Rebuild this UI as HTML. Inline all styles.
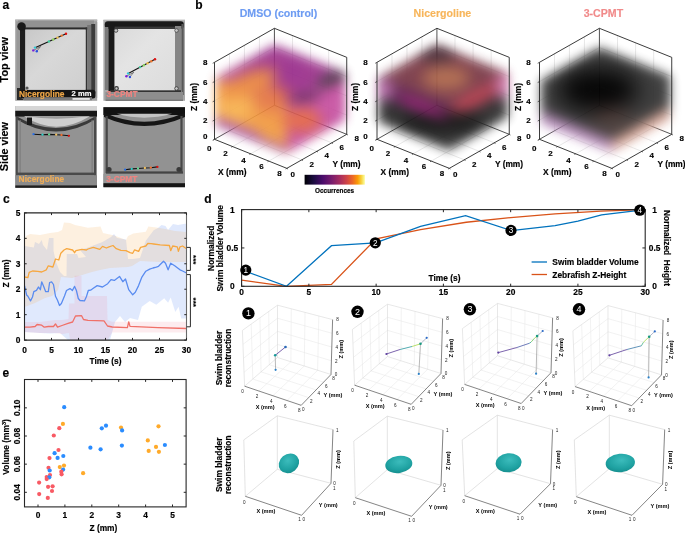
<!DOCTYPE html>
<html><head><meta charset="utf-8"><style>
html,body{margin:0;padding:0;background:#fff;overflow:hidden;}
svg{display:block;will-change:transform;}
text{font-family:"Liberation Sans",sans-serif;}
</style></head><body>
<svg width="685" height="533" viewBox="0 0 685 533">
<defs>
<linearGradient id="g1" x1="0" y1="0" x2="1" y2="1"><stop offset="0" stop-color="#c8c8c8"/><stop offset="0.45" stop-color="#d8d8d8"/><stop offset="1" stop-color="#cfcfcf"/></linearGradient>
<linearGradient id="g2" x1="0" y1="0" x2="1" y2="1"><stop offset="0" stop-color="#dadada"/><stop offset="0.4" stop-color="#e4e4e4"/><stop offset="1" stop-color="#dcdcdc"/></linearGradient>
</defs>
<text x="2.6" y="9.2" font-size="12" font-weight="bold" fill="#000" stroke="#000" stroke-width="0.16" text-anchor="start">a</text>
<text x="195.2" y="8.6" font-size="12" font-weight="bold" fill="#000" stroke="#000" stroke-width="0.16" text-anchor="start">b</text>
<text x="3.0" y="202.6" font-size="12" font-weight="bold" fill="#000" stroke="#000" stroke-width="0.16" text-anchor="start">c</text>
<text x="204.2" y="203.0" font-size="12" font-weight="bold" fill="#000" stroke="#000" stroke-width="0.16" text-anchor="start">d</text>
<text x="2.6" y="377.2" font-size="12" font-weight="bold" fill="#000" stroke="#000" stroke-width="0.16" text-anchor="start">e</text>
<defs><filter color-interpolation-filters="sRGB" id="pb" x="-5%" y="-5%" width="110%" height="110%"><feGaussianBlur stdDeviation="0.55"/></filter></defs>
<g filter="url(#pb)">
<rect x="15.20" y="19.60" width="82.00" height="81.20" fill="#a4a4a4"/>
<rect x="15.20" y="19.60" width="82.00" height="1.40" fill="#b4b4b4"/>
<rect x="18.00" y="20.50" width="76.00" height="6.90" fill="#929292"/>
<rect x="16.60" y="22.00" width="3.60" height="70.00" fill="#989898"/>
<rect x="20.00" y="27.40" width="68.00" height="2.20" fill="#2a2a2a"/>
<rect x="20.00" y="24.50" width="5.30" height="68.50" fill="#1e1e1e"/>
<circle cx="21.5" cy="26.5" r="4.2" fill="#1a1a1a"/>
<rect x="85.60" y="27.50" width="1.60" height="62.50" fill="#333333"/>
<rect x="87.20" y="25.00" width="4.00" height="65.00" fill="#767676"/>
<rect x="91.20" y="24.00" width="4.20" height="70.00" fill="#3c3c3c"/>
<rect x="95.40" y="22.00" width="1.80" height="76.00" fill="#9c9c9c"/>
<rect x="20" y="89.8" width="75.4" height="8.6" rx="2.5" fill="#141414"/>
<path d="M17 88 L20 88 L20 97 L24 100 L17 100 Z" fill="#2a2a2a"/>
<rect x="24.00" y="97.20" width="68.00" height="3.00" fill="#7a7a7a"/>
<rect x="25.3" y="29.6" width="60.3" height="60.2" fill="url(#g1)"/>
<circle cx="27" cy="88" r="1.6" fill="#555"/>
</g>
<g filter="url(#pb)">
<rect x="103.40" y="19.80" width="81.60" height="81.00" fill="#a8a8a8"/>
<rect x="103.40" y="19.80" width="81.60" height="1.50" fill="#b8b8b8"/>
<rect x="104.8" y="21.3" width="79" height="7.4" rx="3" fill="#1a1a1a"/>
<rect x="105.00" y="27.00" width="3.50" height="63.00" fill="#7a7a7a"/>
<rect x="108.50" y="24.00" width="6.10" height="69.00" fill="#1a1a1a"/>
<rect x="114.60" y="26.60" width="60.40" height="2.40" fill="#3a3a3a"/>
<rect x="175.00" y="26.00" width="6.50" height="65.00" fill="#858585"/>
<rect x="181.50" y="24.00" width="2.20" height="71.00" fill="#585858"/>
<rect x="110.00" y="90.20" width="71.00" height="1.80" fill="#333333"/>
<rect x="105.50" y="92.00" width="77.50" height="7.60" fill="#8e8e8e"/>
<rect x="105.50" y="99.60" width="77.50" height="1.20" fill="#6a6a6a"/>
<rect x="114.6" y="29.0" width="60.4" height="61.2" fill="url(#g2)"/>
<circle cx="116" cy="30.5" r="1.8" fill="#c8c8c8" stroke="#333" stroke-width="0.8"/>
<circle cx="176.5" cy="30.5" r="1.8" fill="#c8c8c8" stroke="#333" stroke-width="0.6"/>
<circle cx="116.5" cy="88.5" r="1.8" fill="#c8c8c8" stroke="#333" stroke-width="1.2"/>
<circle cx="176.5" cy="88.5" r="1.8" fill="#c8c8c8" stroke="#333" stroke-width="0.8"/>
</g>
<g filter="url(#pb)">
<rect x="15.30" y="106.00" width="81.70" height="81.80" fill="#939393"/>
<rect x="15.30" y="106.00" width="81.70" height="4.80" fill="#d6d6d6"/>
<rect x="15.30" y="110.80" width="81.70" height="5.80" fill="#181818"/>
<path d="M16 116 Q56 140 96 116 L96 119 Q56 144 16 119 Z" fill="#3a3a3a"/>
<path d="M24 116.3 Q56 137 90 116.3 Z" fill="#cfcfcf"/>
<path d="M26 116.3 L88 116.3 Q56 121 26 116.3 Z" fill="#9a9a9a"/>
<rect x="27.00" y="117.50" width="5.00" height="7.50" fill="#1a1a1a"/>
<rect x="15.80" y="117.00" width="2.00" height="63.00" fill="#4a4a4a"/>
<rect x="19.60" y="120.00" width="1.00" height="56.00" fill="#7a7a7a"/>
<rect x="94.00" y="117.00" width="2.00" height="63.00" fill="#4a4a4a"/>
<rect x="91.60" y="120.00" width="1.00" height="56.00" fill="#7a7a7a"/>
<rect x="16.00" y="172.60" width="80.00" height="2.60" fill="#4a4a4a"/>
<rect x="15.30" y="175.20" width="81.70" height="10.20" fill="#8a8a8a"/>
<rect x="15.30" y="185.40" width="81.70" height="2.40" fill="#202020"/>
</g>
<g filter="url(#pb)">
<rect x="103.40" y="107.20" width="81.60" height="80.00" fill="#929292"/>
<rect x="103.40" y="107.20" width="81.60" height="7.80" fill="#121212"/>
<path d="M104 112.5 Q144 131 185 112.5 L185 117 Q144 135 104 117 Z" fill="#161616"/>
<path d="M117 113.8 Q144 121.5 172 113.8 Z" fill="#c4c4c4"/>
<rect x="105.60" y="116.00" width="2.20" height="57.00" fill="#484848"/>
<rect x="180.40" y="116.00" width="2.20" height="57.00" fill="#484848"/>
<circle cx="109" cy="169.5" r="2.6" fill="#3a3a3a"/>
<circle cx="179" cy="169.5" r="2.6" fill="#3a3a3a"/>
<rect x="106.00" y="171.40" width="77.00" height="2.40" fill="#444444"/>
<rect x="103.40" y="173.80" width="81.60" height="9.40" fill="#969696"/>
<rect x="103.40" y="183.20" width="81.60" height="4.00" fill="#161616"/>
</g>
<line x1="35.60" y1="47.40" x2="66.00" y2="33.70" stroke="#111" stroke-width="1.1"/>
<line x1="33.40" y1="50.40" x2="40.60" y2="46.50" stroke="#222" stroke-width="0.5"/>
<line x1="36.80" y1="51.20" x2="40.60" y2="46.50" stroke="#222" stroke-width="0.5"/>
<circle cx="35.0" cy="47.6" r="1.2" fill="#30c8d8"/>
<circle cx="48.9" cy="41.5" r="1.2" fill="#40d0a0"/>
<circle cx="53.2" cy="39.5" r="1.2" fill="#90d860"/>
<circle cx="57.5" cy="37.6" r="1.2" fill="#f0c050"/>
<circle cx="61.7" cy="35.6" r="1.2" fill="#f07830"/>
<circle cx="66.0" cy="33.7" r="1.2" fill="#e01010"/>
<circle cx="33.3" cy="50.4" r="1.2" fill="#7a20d8"/>
<circle cx="36.8" cy="51.2" r="1.2" fill="#2a50e0"/>
<line x1="128.70" y1="73.20" x2="155.00" y2="59.20" stroke="#111" stroke-width="1.1"/>
<line x1="126.50" y1="76.20" x2="133.70" y2="72.30" stroke="#222" stroke-width="0.5"/>
<line x1="129.90" y1="77.00" x2="133.70" y2="72.30" stroke="#222" stroke-width="0.5"/>
<circle cx="128.1" cy="73.4" r="1.2" fill="#30c8d8"/>
<circle cx="140.1" cy="67.1" r="1.2" fill="#40d0a0"/>
<circle cx="143.9" cy="65.2" r="1.2" fill="#90d860"/>
<circle cx="147.6" cy="63.2" r="1.2" fill="#f0c050"/>
<circle cx="151.3" cy="61.2" r="1.2" fill="#f07830"/>
<circle cx="155.0" cy="59.2" r="1.2" fill="#e01010"/>
<circle cx="126.4" cy="76.2" r="1.2" fill="#7a20d8"/>
<circle cx="129.9" cy="77.0" r="1.2" fill="#2a50e0"/>
<path d="M33.50 134.20 L42.50 134.70 L49.10 134.40 L56.20 134.70 L61.50 135.00 L68.90 135.80" fill="none" stroke="#111" stroke-width="1.1" stroke-linecap="round"/>
<circle cx="33.5" cy="134.2" r="1.15" fill="#2a70e8"/>
<circle cx="42.5" cy="134.7" r="1.15" fill="#30d0c8"/>
<circle cx="49.1" cy="134.4" r="1.15" fill="#60d890"/>
<circle cx="56.2" cy="134.7" r="1.15" fill="#f0c060"/>
<circle cx="61.5" cy="135.0" r="1.15" fill="#f07030"/>
<circle cx="68.9" cy="135.8" r="1.15" fill="#e01010"/>
<path d="M125.10 169.70 L131.70 168.90 L138.00 168.50 L144.90 168.00 L150.80 167.70 L157.40 166.90" fill="none" stroke="#111" stroke-width="1.1" stroke-linecap="round"/>
<circle cx="125.1" cy="169.7" r="1.15" fill="#2a70e8"/>
<circle cx="131.7" cy="168.9" r="1.15" fill="#30d0c8"/>
<circle cx="138.0" cy="168.5" r="1.15" fill="#60d890"/>
<circle cx="144.9" cy="168.0" r="1.15" fill="#f0c060"/>
<circle cx="150.8" cy="167.7" r="1.15" fill="#f07030"/>
<circle cx="157.4" cy="166.9" r="1.15" fill="#e01010"/>
<text x="18.9" y="96.8" font-size="8.4" font-weight="bold" fill="#f0a848" stroke="#f0a848" stroke-width="0.16" text-anchor="start">Nicergoline</text>
<text x="106.4" y="96.9" font-size="8.4" font-weight="bold" fill="#f08480" stroke="#f08480" stroke-width="0.16" text-anchor="start">3-CPMT</text>
<text x="18.6" y="182.2" font-size="8.4" font-weight="bold" fill="#f0ae58" stroke="#f0ae58" stroke-width="0.16" text-anchor="start">Nicergoline</text>
<text x="106.2" y="182.4" font-size="8.4" font-weight="bold" fill="#f08480" stroke="#f08480" stroke-width="0.16" text-anchor="start">3-CPMT</text>
<text x="71.6" y="96.4" font-size="7.6" font-weight="bold" fill="#fff" stroke="#fff" stroke-width="0.16" text-anchor="start">2 mm</text>
<rect x="72.50" y="98.20" width="17.30" height="1.50" fill="#fff"/>
<text x="8.3" y="59.7" font-size="10.8" font-weight="bold" fill="#000" stroke="#000" stroke-width="0.16" text-anchor="middle" transform="rotate(-90 8.3 59.7)">Top view</text>
<text x="8.5" y="146.7" font-size="10.8" font-weight="bold" fill="#000" stroke="#000" stroke-width="0.16" text-anchor="middle" transform="rotate(-90 8.5 146.7)">Side view</text>
<defs>
<filter color-interpolation-filters="sRGB" id="bl35" x="-20%" y="-20%" width="140%" height="140%"><feGaussianBlur stdDeviation="3.5"/></filter>
<filter color-interpolation-filters="sRGB" id="bl55" x="-20%" y="-20%" width="140%" height="140%"><feGaussianBlur stdDeviation="5"/></filter>
<filter color-interpolation-filters="sRGB" id="bl4" x="-50%" y="-50%" width="200%" height="200%"><feGaussianBlur stdDeviation="4"/></filter>
<filter color-interpolation-filters="sRGB" id="bl6" x="-50%" y="-50%" width="200%" height="200%"><feGaussianBlur stdDeviation="6"/></filter>
<filter color-interpolation-filters="sRGB" id="bl5" x="-50%" y="-50%" width="200%" height="200%"><feGaussianBlur stdDeviation="5"/></filter>
<filter color-interpolation-filters="sRGB" id="bl10" x="-50%" y="-50%" width="200%" height="200%"><feGaussianBlur stdDeviation="10"/></filter>
<filter color-interpolation-filters="sRGB" id="bl8" x="-50%" y="-50%" width="200%" height="200%"><feGaussianBlur stdDeviation="8"/></filter>
<linearGradient id="cbar" x1="0" y1="0" x2="1" y2="0">
<stop offset="0" stop-color="#000004"/><stop offset="0.15" stop-color="#1b0c41"/><stop offset="0.3" stop-color="#4a0c6b"/>
<stop offset="0.45" stop-color="#781c6d"/><stop offset="0.58" stop-color="#a52c60"/><stop offset="0.7" stop-color="#cf4446"/>
<stop offset="0.8" stop-color="#ed6925"/><stop offset="0.88" stop-color="#fb9b06"/><stop offset="0.94" stop-color="#f7d13d"/><stop offset="1" stop-color="#fcffa4"/>
</linearGradient>
</defs>
<line x1="229.48" y1="130.80" x2="229.48" y2="53.80" stroke="#d8d8d8" stroke-width="0.6"/>
<line x1="214.50" y1="120.05" x2="274.42" y2="86.05" stroke="#d8d8d8" stroke-width="0.6"/>
<line x1="292.50" y1="112.56" x2="292.50" y2="35.56" stroke="#d8d8d8" stroke-width="0.6"/>
<line x1="274.42" y1="86.05" x2="346.74" y2="115.09" stroke="#d8d8d8" stroke-width="0.6"/>
<line x1="232.58" y1="146.56" x2="292.50" y2="112.56" stroke="#d8d8d8" stroke-width="0.6"/>
<line x1="229.48" y1="130.80" x2="301.80" y2="159.84" stroke="#d8d8d8" stroke-width="0.6"/>
<line x1="244.46" y1="122.30" x2="244.46" y2="45.30" stroke="#d8d8d8" stroke-width="0.6"/>
<line x1="214.50" y1="100.80" x2="274.42" y2="66.80" stroke="#d8d8d8" stroke-width="0.6"/>
<line x1="310.58" y1="119.82" x2="310.58" y2="42.82" stroke="#d8d8d8" stroke-width="0.6"/>
<line x1="274.42" y1="66.80" x2="346.74" y2="95.84" stroke="#d8d8d8" stroke-width="0.6"/>
<line x1="250.66" y1="153.82" x2="310.58" y2="119.82" stroke="#d8d8d8" stroke-width="0.6"/>
<line x1="244.46" y1="122.30" x2="316.78" y2="151.34" stroke="#d8d8d8" stroke-width="0.6"/>
<line x1="259.44" y1="113.80" x2="259.44" y2="36.80" stroke="#d8d8d8" stroke-width="0.6"/>
<line x1="214.50" y1="81.55" x2="274.42" y2="47.55" stroke="#d8d8d8" stroke-width="0.6"/>
<line x1="328.66" y1="127.08" x2="328.66" y2="50.08" stroke="#d8d8d8" stroke-width="0.6"/>
<line x1="274.42" y1="47.55" x2="346.74" y2="76.59" stroke="#d8d8d8" stroke-width="0.6"/>
<line x1="268.74" y1="161.08" x2="328.66" y2="127.08" stroke="#d8d8d8" stroke-width="0.6"/>
<line x1="259.44" y1="113.80" x2="331.76" y2="142.84" stroke="#d8d8d8" stroke-width="0.6"/>
<line x1="274.42" y1="28.30" x2="274.42" y2="105.30" stroke="#262626" stroke-width="0.8"/>
<path d="M214.50 139.30 L274.42 105.30 L346.74 134.34" fill="none" stroke="#262626" stroke-width="0.8"/>
<line x1="391.98" y1="130.80" x2="391.98" y2="53.80" stroke="#d8d8d8" stroke-width="0.6"/>
<line x1="377.00" y1="120.05" x2="436.92" y2="86.05" stroke="#d8d8d8" stroke-width="0.6"/>
<line x1="455.00" y1="112.56" x2="455.00" y2="35.56" stroke="#d8d8d8" stroke-width="0.6"/>
<line x1="436.92" y1="86.05" x2="509.24" y2="115.09" stroke="#d8d8d8" stroke-width="0.6"/>
<line x1="395.08" y1="146.56" x2="455.00" y2="112.56" stroke="#d8d8d8" stroke-width="0.6"/>
<line x1="391.98" y1="130.80" x2="464.30" y2="159.84" stroke="#d8d8d8" stroke-width="0.6"/>
<line x1="406.96" y1="122.30" x2="406.96" y2="45.30" stroke="#d8d8d8" stroke-width="0.6"/>
<line x1="377.00" y1="100.80" x2="436.92" y2="66.80" stroke="#d8d8d8" stroke-width="0.6"/>
<line x1="473.08" y1="119.82" x2="473.08" y2="42.82" stroke="#d8d8d8" stroke-width="0.6"/>
<line x1="436.92" y1="66.80" x2="509.24" y2="95.84" stroke="#d8d8d8" stroke-width="0.6"/>
<line x1="413.16" y1="153.82" x2="473.08" y2="119.82" stroke="#d8d8d8" stroke-width="0.6"/>
<line x1="406.96" y1="122.30" x2="479.28" y2="151.34" stroke="#d8d8d8" stroke-width="0.6"/>
<line x1="421.94" y1="113.80" x2="421.94" y2="36.80" stroke="#d8d8d8" stroke-width="0.6"/>
<line x1="377.00" y1="81.55" x2="436.92" y2="47.55" stroke="#d8d8d8" stroke-width="0.6"/>
<line x1="491.16" y1="127.08" x2="491.16" y2="50.08" stroke="#d8d8d8" stroke-width="0.6"/>
<line x1="436.92" y1="47.55" x2="509.24" y2="76.59" stroke="#d8d8d8" stroke-width="0.6"/>
<line x1="431.24" y1="161.08" x2="491.16" y2="127.08" stroke="#d8d8d8" stroke-width="0.6"/>
<line x1="421.94" y1="113.80" x2="494.26" y2="142.84" stroke="#d8d8d8" stroke-width="0.6"/>
<line x1="436.92" y1="28.30" x2="436.92" y2="105.30" stroke="#262626" stroke-width="0.8"/>
<path d="M377.00 139.30 L436.92 105.30 L509.24 134.34" fill="none" stroke="#262626" stroke-width="0.8"/>
<line x1="554.48" y1="130.80" x2="554.48" y2="53.80" stroke="#d8d8d8" stroke-width="0.6"/>
<line x1="539.50" y1="120.05" x2="599.42" y2="86.05" stroke="#d8d8d8" stroke-width="0.6"/>
<line x1="617.50" y1="112.56" x2="617.50" y2="35.56" stroke="#d8d8d8" stroke-width="0.6"/>
<line x1="599.42" y1="86.05" x2="671.74" y2="115.09" stroke="#d8d8d8" stroke-width="0.6"/>
<line x1="557.58" y1="146.56" x2="617.50" y2="112.56" stroke="#d8d8d8" stroke-width="0.6"/>
<line x1="554.48" y1="130.80" x2="626.80" y2="159.84" stroke="#d8d8d8" stroke-width="0.6"/>
<line x1="569.46" y1="122.30" x2="569.46" y2="45.30" stroke="#d8d8d8" stroke-width="0.6"/>
<line x1="539.50" y1="100.80" x2="599.42" y2="66.80" stroke="#d8d8d8" stroke-width="0.6"/>
<line x1="635.58" y1="119.82" x2="635.58" y2="42.82" stroke="#d8d8d8" stroke-width="0.6"/>
<line x1="599.42" y1="66.80" x2="671.74" y2="95.84" stroke="#d8d8d8" stroke-width="0.6"/>
<line x1="575.66" y1="153.82" x2="635.58" y2="119.82" stroke="#d8d8d8" stroke-width="0.6"/>
<line x1="569.46" y1="122.30" x2="641.78" y2="151.34" stroke="#d8d8d8" stroke-width="0.6"/>
<line x1="584.44" y1="113.80" x2="584.44" y2="36.80" stroke="#d8d8d8" stroke-width="0.6"/>
<line x1="539.50" y1="81.55" x2="599.42" y2="47.55" stroke="#d8d8d8" stroke-width="0.6"/>
<line x1="653.66" y1="127.08" x2="653.66" y2="50.08" stroke="#d8d8d8" stroke-width="0.6"/>
<line x1="599.42" y1="47.55" x2="671.74" y2="76.59" stroke="#d8d8d8" stroke-width="0.6"/>
<line x1="593.74" y1="161.08" x2="653.66" y2="127.08" stroke="#d8d8d8" stroke-width="0.6"/>
<line x1="584.44" y1="113.80" x2="656.76" y2="142.84" stroke="#d8d8d8" stroke-width="0.6"/>
<line x1="599.42" y1="28.30" x2="599.42" y2="105.30" stroke="#262626" stroke-width="0.8"/>
<path d="M539.50 139.30 L599.42 105.30 L671.74 134.34" fill="none" stroke="#262626" stroke-width="0.8"/>
<clipPath id="h0"><polygon points="214.5,125.8 286.8,154.9 346.7,120.9 346.7,71.8 274.4,42.7 214.5,76.7"/></clipPath>
<g filter="url(#bl55)" opacity="0.9"><g clip-path="url(#h0)">
<g filter="url(#bl5)">
<path d="M214.50 125.83 L286.82 154.87 L286.82 105.78 L214.50 76.74 Z" fill="#f09a3c" stroke="none" stroke-width="1"/>
<path d="M286.82 154.87 L346.74 120.87 L346.74 71.78 L286.82 105.78 Z" fill="#c0449a" stroke="none" stroke-width="1"/>
<path d="M214.50 76.74 L286.82 105.78 L346.74 71.78 L274.42 42.74 Z" fill="#9a2c88" stroke="none" stroke-width="1"/>
</g><g filter="url(#bl6)">
<ellipse cx="234" cy="106" rx="17" ry="15" fill="#f8b24a"/>
<ellipse cx="248" cy="84" rx="30" ry="11" fill="#ec8636" transform="rotate(-22 248 84)"/>
<ellipse cx="266" cy="124" rx="18" ry="9" fill="#f2983a"/>
<ellipse cx="302" cy="120" rx="20" ry="12" fill="#e4623a"/>
<ellipse cx="280" cy="96" rx="10" ry="8" fill="#d0503c"/>
<ellipse cx="270" cy="100" rx="16" ry="13" fill="#e4703c"/>
<ellipse cx="292" cy="72" rx="12" ry="11" fill="#942488"/>
</g><g filter="url(#bl4)">
<ellipse cx="332" cy="79" rx="16" ry="6" fill="#383038" transform="rotate(-22 332 79)"/>
<ellipse cx="306" cy="97" rx="16" ry="4" fill="#501848" transform="rotate(-14 306 97)"/>
<ellipse cx="330" cy="106" rx="13" ry="6" fill="#c850a0" transform="rotate(-20 330 106)"/>
<path d="M214.50 129.68 L259.70 147.83 L259.70 134.35 L214.50 116.20 Z" fill="#a452ae" stroke="none" stroke-width="1"/>
<path d="M250.66 144.20 L286.82 158.72 L286.82 148.13 L250.66 133.61 Z" fill="#a458ac" stroke="none" stroke-width="1" opacity="0.9"/>
<ellipse cx="230" cy="73" rx="16" ry="3.5" fill="#d070a8" opacity="0.7" transform="rotate(-28 230 73)"/>
</g>
</g></g>
<clipPath id="h1"><polygon points="377.0,122.9 449.3,152.0 509.2,118.0 509.2,71.8 436.9,42.7 377.0,76.7"/></clipPath>
<g filter="url(#bl55)" opacity="0.95"><g clip-path="url(#h1)">
<g filter="url(#bl5)">
<path d="M377.00 122.94 L449.32 151.98 L449.32 105.78 L377.00 76.74 Z" fill="#2a2a2a" stroke="none" stroke-width="1"/>
<path d="M449.32 151.98 L509.24 117.98 L509.24 71.78 L449.32 105.78 Z" fill="#2e2e2e" stroke="none" stroke-width="1"/>
<path d="M377.00 94.06 L449.32 123.10 L449.32 105.78 L377.00 76.74 Z" fill="#5a2050" stroke="none" stroke-width="1"/>
<path d="M449.32 123.10 L509.24 89.10 L509.24 71.78 L449.32 105.78 Z" fill="#a03850" stroke="none" stroke-width="1"/>
<path d="M377.00 76.74 L449.32 105.78 L509.24 71.78 L436.92 42.74 Z" fill="#7a3a48" stroke="none" stroke-width="1"/>
</g><g filter="url(#bl6)">
<ellipse cx="446" cy="78" rx="24" ry="12" fill="#b06a4c"/>
<ellipse cx="383" cy="90" rx="9" ry="10" fill="#d888c8"/>
<ellipse cx="505" cy="86" rx="8" ry="12" fill="#e090cc"/>
<ellipse cx="437" cy="54" rx="18" ry="7" fill="#3a2a32"/>
<ellipse cx="442" cy="122" rx="42" ry="11" fill="#141414"/>
</g><g filter="url(#bl4)">
<ellipse cx="422" cy="107" rx="28" ry="4" fill="#a01c78" transform="rotate(22 422 107)"/>
<ellipse cx="474" cy="98" rx="22" ry="3.5" fill="#c04048" transform="rotate(-29 474 98)"/>
</g>
</g></g>
<clipPath id="h2"><polygon points="539.5,124.9 611.8,153.9 671.7,119.9 671.7,74.7 599.4,45.6 539.5,79.6"/></clipPath>
<g filter="url(#bl55)" opacity="0.97"><g clip-path="url(#h2)">
<g filter="url(#bl5)">
<path d="M539.50 124.86 L611.82 153.90 L671.74 119.90 L671.74 74.66 L599.42 45.63 L539.50 79.62 Z" fill="#3a3a3a" stroke="none" stroke-width="1"/>
<path d="M539.50 124.86 L611.82 153.90 L611.82 140.43 L539.50 111.39 Z" fill="#c496c8" stroke="none" stroke-width="1"/>
<path d="M611.82 153.90 L671.74 119.90 L671.74 106.43 L611.82 140.43 Z" fill="#e8b2a2" stroke="none" stroke-width="1"/>
</g><g filter="url(#bl10)">
<ellipse cx="598" cy="90" rx="40" ry="22" fill="#000"/>
<ellipse cx="612" cy="120" rx="20" ry="7" fill="#6a4a44"/>
</g>
</g></g>
<path d="M214.50 62.30 L274.42 28.30 L346.74 57.34" fill="none" stroke="#262626" stroke-width="0.9"/>
<line x1="214.50" y1="62.30" x2="214.50" y2="139.30" stroke="#262626" stroke-width="0.9"/>
<line x1="346.74" y1="57.34" x2="346.74" y2="134.34" stroke="#262626" stroke-width="0.9"/>
<path d="M214.50 139.30 L286.82 168.34 L346.74 134.34" fill="none" stroke="#262626" stroke-width="0.9"/>
<line x1="214.50" y1="139.30" x2="212.70" y2="140.30" stroke="#262626" stroke-width="0.7"/>
<line x1="214.50" y1="139.30" x2="213.30" y2="140.00" stroke="#262626" stroke-width="0.7"/>
<line x1="286.82" y1="168.34" x2="288.02" y2="169.04" stroke="#262626" stroke-width="0.7"/>
<line x1="214.50" y1="120.05" x2="212.70" y2="121.05" stroke="#262626" stroke-width="0.7"/>
<line x1="232.58" y1="146.56" x2="231.38" y2="147.26" stroke="#262626" stroke-width="0.7"/>
<line x1="301.80" y1="159.84" x2="303.00" y2="160.54" stroke="#262626" stroke-width="0.7"/>
<line x1="214.50" y1="100.80" x2="212.70" y2="101.80" stroke="#262626" stroke-width="0.7"/>
<line x1="250.66" y1="153.82" x2="249.46" y2="154.52" stroke="#262626" stroke-width="0.7"/>
<line x1="316.78" y1="151.34" x2="317.98" y2="152.04" stroke="#262626" stroke-width="0.7"/>
<line x1="214.50" y1="81.55" x2="212.70" y2="82.55" stroke="#262626" stroke-width="0.7"/>
<line x1="268.74" y1="161.08" x2="267.54" y2="161.78" stroke="#262626" stroke-width="0.7"/>
<line x1="331.76" y1="142.84" x2="332.96" y2="143.54" stroke="#262626" stroke-width="0.7"/>
<line x1="214.50" y1="62.30" x2="212.70" y2="63.30" stroke="#262626" stroke-width="0.7"/>
<line x1="286.82" y1="168.34" x2="285.62" y2="169.04" stroke="#262626" stroke-width="0.7"/>
<line x1="346.74" y1="134.34" x2="347.94" y2="135.04" stroke="#262626" stroke-width="0.7"/>
<text x="205.2" y="139.3" font-size="8" font-weight="bold" fill="#000" stroke="#000" stroke-width="0.16" text-anchor="middle">0</text>
<text x="205.2" y="123.1" font-size="8" font-weight="bold" fill="#000" stroke="#000" stroke-width="0.16" text-anchor="middle">2</text>
<text x="205.2" y="103.8" font-size="8" font-weight="bold" fill="#000" stroke="#000" stroke-width="0.16" text-anchor="middle">4</text>
<text x="205.2" y="84.6" font-size="8" font-weight="bold" fill="#000" stroke="#000" stroke-width="0.16" text-anchor="middle">6</text>
<text x="205.2" y="65.3" font-size="8" font-weight="bold" fill="#000" stroke="#000" stroke-width="0.16" text-anchor="middle">8</text>
<text x="209.3" y="150.7" font-size="8" font-weight="bold" fill="#000" stroke="#000" stroke-width="0.16" text-anchor="middle">0</text>
<text x="225.4" y="156.0" font-size="8" font-weight="bold" fill="#000" stroke="#000" stroke-width="0.16" text-anchor="middle">2</text>
<text x="243.5" y="162.6" font-size="8" font-weight="bold" fill="#000" stroke="#000" stroke-width="0.16" text-anchor="middle">4</text>
<text x="261.5" y="169.3" font-size="8" font-weight="bold" fill="#000" stroke="#000" stroke-width="0.16" text-anchor="middle">6</text>
<text x="279.6" y="175.9" font-size="8" font-weight="bold" fill="#000" stroke="#000" stroke-width="0.16" text-anchor="middle">8</text>
<text x="292.8" y="176.5" font-size="8" font-weight="bold" fill="#000" stroke="#000" stroke-width="0.16" text-anchor="middle">0</text>
<text x="311.8" y="166.8" font-size="8" font-weight="bold" fill="#000" stroke="#000" stroke-width="0.16" text-anchor="middle">2</text>
<text x="326.8" y="158.3" font-size="8" font-weight="bold" fill="#000" stroke="#000" stroke-width="0.16" text-anchor="middle">4</text>
<text x="341.8" y="149.8" font-size="8" font-weight="bold" fill="#000" stroke="#000" stroke-width="0.16" text-anchor="middle">6</text>
<text x="356.7" y="141.3" font-size="8" font-weight="bold" fill="#000" stroke="#000" stroke-width="0.16" text-anchor="middle">8</text>
<text x="232.3" y="175.2" font-size="8.4" font-weight="bold" fill="#000" stroke="#000" stroke-width="0.16" text-anchor="middle">X (mm)</text>
<text x="346.5" y="167.2" font-size="8.4" font-weight="bold" fill="#000" stroke="#000" stroke-width="0.16" text-anchor="middle">Y (mm)</text>
<text x="196.9" y="97.0" font-size="8.4" font-weight="bold" fill="#000" stroke="#000" stroke-width="0.16" text-anchor="middle" transform="rotate(-90 196.9 97.0)">Z (mm)</text>
<path d="M377.00 62.30 L436.92 28.30 L509.24 57.34" fill="none" stroke="#262626" stroke-width="0.9"/>
<line x1="377.00" y1="62.30" x2="377.00" y2="139.30" stroke="#262626" stroke-width="0.9"/>
<line x1="509.24" y1="57.34" x2="509.24" y2="134.34" stroke="#262626" stroke-width="0.9"/>
<path d="M377.00 139.30 L449.32 168.34 L509.24 134.34" fill="none" stroke="#262626" stroke-width="0.9"/>
<line x1="377.00" y1="139.30" x2="375.20" y2="140.30" stroke="#262626" stroke-width="0.7"/>
<line x1="377.00" y1="139.30" x2="375.80" y2="140.00" stroke="#262626" stroke-width="0.7"/>
<line x1="449.32" y1="168.34" x2="450.52" y2="169.04" stroke="#262626" stroke-width="0.7"/>
<line x1="377.00" y1="120.05" x2="375.20" y2="121.05" stroke="#262626" stroke-width="0.7"/>
<line x1="395.08" y1="146.56" x2="393.88" y2="147.26" stroke="#262626" stroke-width="0.7"/>
<line x1="464.30" y1="159.84" x2="465.50" y2="160.54" stroke="#262626" stroke-width="0.7"/>
<line x1="377.00" y1="100.80" x2="375.20" y2="101.80" stroke="#262626" stroke-width="0.7"/>
<line x1="413.16" y1="153.82" x2="411.96" y2="154.52" stroke="#262626" stroke-width="0.7"/>
<line x1="479.28" y1="151.34" x2="480.48" y2="152.04" stroke="#262626" stroke-width="0.7"/>
<line x1="377.00" y1="81.55" x2="375.20" y2="82.55" stroke="#262626" stroke-width="0.7"/>
<line x1="431.24" y1="161.08" x2="430.04" y2="161.78" stroke="#262626" stroke-width="0.7"/>
<line x1="494.26" y1="142.84" x2="495.46" y2="143.54" stroke="#262626" stroke-width="0.7"/>
<line x1="377.00" y1="62.30" x2="375.20" y2="63.30" stroke="#262626" stroke-width="0.7"/>
<line x1="449.32" y1="168.34" x2="448.12" y2="169.04" stroke="#262626" stroke-width="0.7"/>
<line x1="509.24" y1="134.34" x2="510.44" y2="135.04" stroke="#262626" stroke-width="0.7"/>
<text x="365.5" y="139.3" font-size="8" font-weight="bold" fill="#000" stroke="#000" stroke-width="0.16" text-anchor="middle">0</text>
<text x="365.5" y="123.1" font-size="8" font-weight="bold" fill="#000" stroke="#000" stroke-width="0.16" text-anchor="middle">2</text>
<text x="365.5" y="103.8" font-size="8" font-weight="bold" fill="#000" stroke="#000" stroke-width="0.16" text-anchor="middle">4</text>
<text x="365.5" y="84.6" font-size="8" font-weight="bold" fill="#000" stroke="#000" stroke-width="0.16" text-anchor="middle">6</text>
<text x="365.5" y="65.3" font-size="8" font-weight="bold" fill="#000" stroke="#000" stroke-width="0.16" text-anchor="middle">8</text>
<text x="371.8" y="150.7" font-size="8" font-weight="bold" fill="#000" stroke="#000" stroke-width="0.16" text-anchor="middle">0</text>
<text x="387.9" y="156.0" font-size="8" font-weight="bold" fill="#000" stroke="#000" stroke-width="0.16" text-anchor="middle">2</text>
<text x="406.0" y="162.6" font-size="8" font-weight="bold" fill="#000" stroke="#000" stroke-width="0.16" text-anchor="middle">4</text>
<text x="424.0" y="169.3" font-size="8" font-weight="bold" fill="#000" stroke="#000" stroke-width="0.16" text-anchor="middle">6</text>
<text x="442.1" y="175.9" font-size="8" font-weight="bold" fill="#000" stroke="#000" stroke-width="0.16" text-anchor="middle">8</text>
<text x="455.3" y="176.5" font-size="8" font-weight="bold" fill="#000" stroke="#000" stroke-width="0.16" text-anchor="middle">0</text>
<text x="474.3" y="166.8" font-size="8" font-weight="bold" fill="#000" stroke="#000" stroke-width="0.16" text-anchor="middle">2</text>
<text x="489.3" y="158.3" font-size="8" font-weight="bold" fill="#000" stroke="#000" stroke-width="0.16" text-anchor="middle">4</text>
<text x="504.3" y="149.8" font-size="8" font-weight="bold" fill="#000" stroke="#000" stroke-width="0.16" text-anchor="middle">6</text>
<text x="519.2" y="141.3" font-size="8" font-weight="bold" fill="#000" stroke="#000" stroke-width="0.16" text-anchor="middle">8</text>
<text x="394.8" y="175.2" font-size="8.4" font-weight="bold" fill="#000" stroke="#000" stroke-width="0.16" text-anchor="middle">X (mm)</text>
<text x="509.0" y="167.2" font-size="8.4" font-weight="bold" fill="#000" stroke="#000" stroke-width="0.16" text-anchor="middle">Y (mm)</text>
<text x="357.6" y="97.0" font-size="8.4" font-weight="bold" fill="#000" stroke="#000" stroke-width="0.16" text-anchor="middle" transform="rotate(-90 357.6 97.0)">Z (mm)</text>
<path d="M539.50 62.30 L599.42 28.30 L671.74 57.34" fill="none" stroke="#262626" stroke-width="0.9"/>
<line x1="539.50" y1="62.30" x2="539.50" y2="139.30" stroke="#262626" stroke-width="0.9"/>
<line x1="671.74" y1="57.34" x2="671.74" y2="134.34" stroke="#262626" stroke-width="0.9"/>
<path d="M539.50 139.30 L611.82 168.34 L671.74 134.34" fill="none" stroke="#262626" stroke-width="0.9"/>
<line x1="539.50" y1="139.30" x2="537.70" y2="140.30" stroke="#262626" stroke-width="0.7"/>
<line x1="539.50" y1="139.30" x2="538.30" y2="140.00" stroke="#262626" stroke-width="0.7"/>
<line x1="611.82" y1="168.34" x2="613.02" y2="169.04" stroke="#262626" stroke-width="0.7"/>
<line x1="539.50" y1="120.05" x2="537.70" y2="121.05" stroke="#262626" stroke-width="0.7"/>
<line x1="557.58" y1="146.56" x2="556.38" y2="147.26" stroke="#262626" stroke-width="0.7"/>
<line x1="626.80" y1="159.84" x2="628.00" y2="160.54" stroke="#262626" stroke-width="0.7"/>
<line x1="539.50" y1="100.80" x2="537.70" y2="101.80" stroke="#262626" stroke-width="0.7"/>
<line x1="575.66" y1="153.82" x2="574.46" y2="154.52" stroke="#262626" stroke-width="0.7"/>
<line x1="641.78" y1="151.34" x2="642.98" y2="152.04" stroke="#262626" stroke-width="0.7"/>
<line x1="539.50" y1="81.55" x2="537.70" y2="82.55" stroke="#262626" stroke-width="0.7"/>
<line x1="593.74" y1="161.08" x2="592.54" y2="161.78" stroke="#262626" stroke-width="0.7"/>
<line x1="656.76" y1="142.84" x2="657.96" y2="143.54" stroke="#262626" stroke-width="0.7"/>
<line x1="539.50" y1="62.30" x2="537.70" y2="63.30" stroke="#262626" stroke-width="0.7"/>
<line x1="611.82" y1="168.34" x2="610.62" y2="169.04" stroke="#262626" stroke-width="0.7"/>
<line x1="671.74" y1="134.34" x2="672.94" y2="135.04" stroke="#262626" stroke-width="0.7"/>
<text x="528.4" y="139.3" font-size="8" font-weight="bold" fill="#000" stroke="#000" stroke-width="0.16" text-anchor="middle">0</text>
<text x="528.4" y="123.1" font-size="8" font-weight="bold" fill="#000" stroke="#000" stroke-width="0.16" text-anchor="middle">2</text>
<text x="528.4" y="103.8" font-size="8" font-weight="bold" fill="#000" stroke="#000" stroke-width="0.16" text-anchor="middle">4</text>
<text x="528.4" y="84.6" font-size="8" font-weight="bold" fill="#000" stroke="#000" stroke-width="0.16" text-anchor="middle">6</text>
<text x="528.4" y="65.3" font-size="8" font-weight="bold" fill="#000" stroke="#000" stroke-width="0.16" text-anchor="middle">8</text>
<text x="534.3" y="150.7" font-size="8" font-weight="bold" fill="#000" stroke="#000" stroke-width="0.16" text-anchor="middle">0</text>
<text x="550.4" y="156.0" font-size="8" font-weight="bold" fill="#000" stroke="#000" stroke-width="0.16" text-anchor="middle">2</text>
<text x="568.5" y="162.6" font-size="8" font-weight="bold" fill="#000" stroke="#000" stroke-width="0.16" text-anchor="middle">4</text>
<text x="586.5" y="169.3" font-size="8" font-weight="bold" fill="#000" stroke="#000" stroke-width="0.16" text-anchor="middle">6</text>
<text x="604.6" y="175.9" font-size="8" font-weight="bold" fill="#000" stroke="#000" stroke-width="0.16" text-anchor="middle">8</text>
<text x="617.8" y="176.5" font-size="8" font-weight="bold" fill="#000" stroke="#000" stroke-width="0.16" text-anchor="middle">0</text>
<text x="636.8" y="166.8" font-size="8" font-weight="bold" fill="#000" stroke="#000" stroke-width="0.16" text-anchor="middle">2</text>
<text x="651.8" y="158.3" font-size="8" font-weight="bold" fill="#000" stroke="#000" stroke-width="0.16" text-anchor="middle">4</text>
<text x="666.8" y="149.8" font-size="8" font-weight="bold" fill="#000" stroke="#000" stroke-width="0.16" text-anchor="middle">6</text>
<text x="681.7" y="141.3" font-size="8" font-weight="bold" fill="#000" stroke="#000" stroke-width="0.16" text-anchor="middle">8</text>
<text x="557.3" y="175.2" font-size="8.4" font-weight="bold" fill="#000" stroke="#000" stroke-width="0.16" text-anchor="middle">X (mm)</text>
<text x="671.5" y="167.2" font-size="8.4" font-weight="bold" fill="#000" stroke="#000" stroke-width="0.16" text-anchor="middle">Y (mm)</text>
<text x="520.8" y="97.0" font-size="8.4" font-weight="bold" fill="#000" stroke="#000" stroke-width="0.16" text-anchor="middle" transform="rotate(-90 520.8 97.0)">Z (mm)</text>
<text x="278.5" y="16.5" font-size="10.6" font-weight="bold" fill="#6e9cf2" stroke="#6e9cf2" stroke-width="0.16" text-anchor="middle">DMSO (control)</text>
<text x="442.4" y="16.5" font-size="10.6" font-weight="bold" fill="#f7b55a" stroke="#f7b55a" stroke-width="0.16" text-anchor="middle">Nicergoline</text>
<text x="603.4" y="16.6" font-size="10.6" font-weight="bold" fill="#f08a8a" stroke="#f08a8a" stroke-width="0.16" text-anchor="middle">3-CPMT</text>
<rect x="304.60" y="174.80" width="60.30" height="9.80" fill="url(#cbar)"/>
<text x="334.6" y="192.5" font-size="6.4" font-weight="bold" fill="#000" stroke="#000" stroke-width="0.16" text-anchor="middle">Occurrences</text>
<defs><clipPath id="cc"><rect x="24.5" y="212.9" width="162" height="127.2"/></clipPath></defs>
<g clip-path="url(#cc)">
<path d="M24.50 246.00 L33.80 247.40 L35.00 242.00 L39.00 244.00 L41.70 240.00 L43.00 245.00 L47.00 250.00 L49.00 238.00 L53.50 238.00 L53.50 251.00 L56.00 262.00 L60.00 272.00 L64.00 276.00 L66.50 276.00 L66.80 254.00 L77.00 254.00 L78.50 258.00 L86.00 257.00 L80.00 250.00 L88.00 247.40 L102.50 242.00 L111.00 237.00 L114.00 234.00 L117.00 238.00 L126.00 239.50 L128.00 259.00 L133.00 259.00 L140.00 258.00 L145.80 240.80 L153.70 230.30 L158.00 228.00 L161.50 225.00 L165.50 226.00 L168.00 230.00 L173.00 224.00 L178.00 225.00 L185.00 223.80 L186.50 224.00 L186.50 318.60 L181.20 318.60 L178.60 306.80 L175.30 312.00 L170.70 297.60 L168.10 302.80 L164.20 298.30 L156.30 304.80 L149.70 300.90 L141.80 306.80 L138.00 320.00 L130.00 318.00 L125.00 322.00 L120.00 316.00 L115.00 322.00 L110.00 340.10 L68.00 340.10 L60.00 333.00 L50.00 333.50 L40.00 333.00 L24.50 332.00 Z" fill="#5a8cf2" stroke="none" stroke-width="1" fill-opacity="0.19"/>
<path d="M24.50 240.00 L26.00 236.00 L30.00 234.00 L40.00 235.00 L50.00 233.00 L58.00 232.00 L62.00 230.00 L64.00 222.50 L70.00 223.00 L75.00 225.00 L88.00 227.70 L100.50 226.40 L103.00 233.00 L114.30 235.60 L126.00 240.00 L128.00 236.00 L133.30 233.60 L145.80 231.70 L148.40 226.40 L158.00 227.70 L165.00 229.00 L175.00 231.00 L186.50 232.00 L186.50 262.00 L160.00 262.00 L140.00 261.00 L132.00 266.00 L128.00 267.00 L110.00 268.00 L100.00 270.00 L92.00 272.00 L72.00 278.00 L61.00 277.00 L58.00 290.00 L52.00 296.00 L45.00 298.00 L35.00 303.00 L24.50 307.00 Z" fill="#f29b30" stroke="none" stroke-width="1" fill-opacity="0.15"/>
<path d="M24.50 322.00 L40.00 322.00 L55.00 320.00 L62.00 320.00 L68.50 319.00 L69.00 303.50 L74.50 303.50 L74.50 275.70 L81.50 275.70 L81.50 296.00 L107.00 296.00 L107.50 320.00 L112.00 321.80 L186.50 321.80 L186.50 332.40 L112.00 332.40 L107.50 340.10 L70.00 340.10 L69.00 333.00 L62.00 334.00 L55.00 333.00 L40.00 333.00 L24.50 332.00 Z" fill="#f07080" stroke="none" stroke-width="1" fill-opacity="0.13"/>
<path d="M24.60 277.00 L27.90 277.60 L29.20 272.40 L32.50 271.00 L37.80 271.30 L41.70 272.00 L46.30 269.80 L48.30 265.80 L52.90 267.00 L55.50 259.00 L58.80 260.00 L60.80 253.30 L64.00 250.00 L66.70 248.70 L72.60 250.00 L74.60 252.70 L75.90 250.70 L81.80 249.40 L86.40 250.00 L88.00 249.00 L93.30 247.40 L99.80 249.40 L102.50 246.40 L106.40 248.00 L109.00 246.80 L113.00 245.50 L116.30 248.70 L120.90 250.30 L126.00 250.70 L130.00 252.70 L132.70 253.30 L134.60 249.80 L138.60 251.40 L140.60 247.40 L145.80 246.00 L147.80 243.50 L151.00 243.70 L153.70 244.00 L160.20 244.80 L169.40 245.50 L170.70 250.70 L172.70 246.00 L177.30 246.80 L178.40 251.40 L180.00 246.80 L182.60 246.00 L186.50 248.70" fill="none" stroke="#f7a840" stroke-width="1.3" stroke-linejoin="round"/>
<path d="M24.60 285.80 L26.60 295.00 L27.90 296.30 L30.50 300.90 L32.50 297.00 L33.80 291.70 L36.50 290.40 L38.40 287.00 L40.40 289.70 L41.70 281.80 L43.70 286.40 L45.70 291.70 L48.30 291.70 L49.60 282.50 L51.60 281.80 L53.50 284.50 L55.50 296.30 L57.50 300.20 L59.50 305.50 L61.40 303.50 L64.50 296.00 L66.50 290.50 L70.00 288.60 L72.40 290.50 L74.60 286.40 L76.40 290.50 L78.30 298.50 L80.00 300.50 L84.40 300.90 L86.50 296.40 L88.30 290.50 L90.60 290.20 L93.30 288.30 L97.20 285.60 L102.50 287.00 L107.70 283.70 L111.00 279.70 L114.30 280.40 L119.50 276.40 L122.80 281.70 L125.50 279.00 L128.70 289.60 L132.70 294.80 L135.30 292.20 L138.60 285.60 L141.90 277.10 L145.80 271.20 L149.70 269.10 L153.00 268.00 L156.30 267.10 L158.50 266.30 L161.50 263.20 L163.50 261.20 L165.50 263.20 L168.10 269.80 L170.70 263.20 L174.70 265.80 L177.30 267.80 L180.00 269.80 L182.60 271.00 L186.50 273.00" fill="none" stroke="#5a8cf0" stroke-width="1.3" stroke-linejoin="round"/>
<path d="M24.60 327.20 L29.90 327.20 L35.10 326.50 L37.10 324.50 L41.70 325.20 L44.30 327.20 L48.30 326.50 L53.50 326.50 L55.50 323.90 L57.50 327.20 L62.00 325.50 L68.00 323.30 L72.60 322.00 L75.50 316.00 L81.60 315.70 L83.50 319.50 L88.00 320.30 L104.00 320.80 L107.50 326.00 L112.30 327.00 L127.40 327.70 L128.70 321.80 L130.00 326.40 L158.00 327.70 L186.50 328.50" fill="none" stroke="#f07068" stroke-width="1.3" stroke-linejoin="round"/>
</g>
<path d="M186.50 212.90 L24.50 212.90 L24.50 340.10 L186.50 340.10" fill="none" stroke="#262626" stroke-width="1.1"/>
<line x1="186.50" y1="212.40" x2="186.50" y2="340.60" stroke="#6a6a6a" stroke-width="1.1"/>
<line x1="24.50" y1="340.10" x2="24.50" y2="337.90" stroke="#262626" stroke-width="1"/>
<line x1="24.50" y1="212.90" x2="24.50" y2="215.10" stroke="#262626" stroke-width="1"/>
<text x="24.5" y="352.7" font-size="8.4" font-weight="bold" fill="#000" stroke="#000" stroke-width="0.16" text-anchor="middle">0</text>
<line x1="51.50" y1="340.10" x2="51.50" y2="337.90" stroke="#262626" stroke-width="1"/>
<line x1="51.50" y1="212.90" x2="51.50" y2="215.10" stroke="#262626" stroke-width="1"/>
<text x="51.5" y="352.7" font-size="8.4" font-weight="bold" fill="#000" stroke="#000" stroke-width="0.16" text-anchor="middle">5</text>
<line x1="78.50" y1="340.10" x2="78.50" y2="337.90" stroke="#262626" stroke-width="1"/>
<line x1="78.50" y1="212.90" x2="78.50" y2="215.10" stroke="#262626" stroke-width="1"/>
<text x="78.5" y="352.7" font-size="8.4" font-weight="bold" fill="#000" stroke="#000" stroke-width="0.16" text-anchor="middle">10</text>
<line x1="105.50" y1="340.10" x2="105.50" y2="337.90" stroke="#262626" stroke-width="1"/>
<line x1="105.50" y1="212.90" x2="105.50" y2="215.10" stroke="#262626" stroke-width="1"/>
<text x="105.5" y="352.7" font-size="8.4" font-weight="bold" fill="#000" stroke="#000" stroke-width="0.16" text-anchor="middle">15</text>
<line x1="132.50" y1="340.10" x2="132.50" y2="337.90" stroke="#262626" stroke-width="1"/>
<line x1="132.50" y1="212.90" x2="132.50" y2="215.10" stroke="#262626" stroke-width="1"/>
<text x="132.5" y="352.7" font-size="8.4" font-weight="bold" fill="#000" stroke="#000" stroke-width="0.16" text-anchor="middle">20</text>
<line x1="159.50" y1="340.10" x2="159.50" y2="337.90" stroke="#262626" stroke-width="1"/>
<line x1="159.50" y1="212.90" x2="159.50" y2="215.10" stroke="#262626" stroke-width="1"/>
<text x="159.5" y="352.7" font-size="8.4" font-weight="bold" fill="#000" stroke="#000" stroke-width="0.16" text-anchor="middle">25</text>
<line x1="186.50" y1="340.10" x2="186.50" y2="337.90" stroke="#262626" stroke-width="1"/>
<line x1="186.50" y1="212.90" x2="186.50" y2="215.10" stroke="#262626" stroke-width="1"/>
<text x="186.5" y="352.7" font-size="8.4" font-weight="bold" fill="#000" stroke="#000" stroke-width="0.16" text-anchor="middle">30</text>
<line x1="24.50" y1="340.10" x2="26.70" y2="340.10" stroke="#262626" stroke-width="1"/>
<line x1="186.50" y1="340.10" x2="184.30" y2="340.10" stroke="#262626" stroke-width="1"/>
<text x="18.2" y="343.1" font-size="8.4" font-weight="bold" fill="#000" stroke="#000" stroke-width="0.16" text-anchor="middle">0</text>
<line x1="24.50" y1="314.66" x2="26.70" y2="314.66" stroke="#262626" stroke-width="1"/>
<line x1="186.50" y1="314.66" x2="184.30" y2="314.66" stroke="#262626" stroke-width="1"/>
<text x="18.2" y="317.7" font-size="8.4" font-weight="bold" fill="#000" stroke="#000" stroke-width="0.16" text-anchor="middle">1</text>
<line x1="24.50" y1="289.22" x2="26.70" y2="289.22" stroke="#262626" stroke-width="1"/>
<line x1="186.50" y1="289.22" x2="184.30" y2="289.22" stroke="#262626" stroke-width="1"/>
<text x="18.2" y="292.2" font-size="8.4" font-weight="bold" fill="#000" stroke="#000" stroke-width="0.16" text-anchor="middle">2</text>
<line x1="24.50" y1="263.78" x2="26.70" y2="263.78" stroke="#262626" stroke-width="1"/>
<line x1="186.50" y1="263.78" x2="184.30" y2="263.78" stroke="#262626" stroke-width="1"/>
<text x="18.2" y="266.8" font-size="8.4" font-weight="bold" fill="#000" stroke="#000" stroke-width="0.16" text-anchor="middle">3</text>
<line x1="24.50" y1="238.34" x2="26.70" y2="238.34" stroke="#262626" stroke-width="1"/>
<line x1="186.50" y1="238.34" x2="184.30" y2="238.34" stroke="#262626" stroke-width="1"/>
<text x="18.2" y="241.3" font-size="8.4" font-weight="bold" fill="#000" stroke="#000" stroke-width="0.16" text-anchor="middle">4</text>
<line x1="24.50" y1="212.90" x2="26.70" y2="212.90" stroke="#262626" stroke-width="1"/>
<line x1="186.50" y1="212.90" x2="184.30" y2="212.90" stroke="#262626" stroke-width="1"/>
<text x="18.2" y="215.9" font-size="8.4" font-weight="bold" fill="#000" stroke="#000" stroke-width="0.16" text-anchor="middle">5</text>
<text x="105.5" y="364.2" font-size="8.4" font-weight="bold" fill="#000" stroke="#000" stroke-width="0.16" text-anchor="middle">Time (s)</text>
<text x="9.2" y="273.5" font-size="8.4" font-weight="bold" fill="#000" stroke="#000" stroke-width="0.16" text-anchor="middle" transform="rotate(-90 9.2 273.5)">Z (mm)</text>
<path d="M186.80 247.40 L190.40 247.40 L190.40 270.40 L186.80 270.40" fill="none" stroke="#111" stroke-width="0.9"/>
<path d="M186.80 274.60 L190.40 274.60 L190.40 326.80 L186.80 326.80" fill="none" stroke="#111" stroke-width="0.9"/>
<text x="190.7" y="259.8" font-size="8" font-weight="bold" fill="#000" stroke="#000" stroke-width="0.16" text-anchor="middle" transform="rotate(90 190.7 259.8)">***</text>
<text x="190.7" y="302.3" font-size="8" font-weight="bold" fill="#000" stroke="#000" stroke-width="0.16" text-anchor="middle" transform="rotate(90 190.7 302.3)">***</text>
<path d="M241.60 280.16 L286.53 286.30 L331.47 284.38 L376.13 238.75 L420.52 229.54 L466.27 222.26 L510.66 217.65 L555.05 213.82 L600.80 211.13 L645.19 209.60" fill="none" stroke="#d95319" stroke-width="1.3"/>
<path d="M241.60 269.81 L286.53 286.30 L331.47 245.65 L375.59 242.89 L420.52 226.47 L465.59 215.74 L511.20 230.54 L555.05 225.71 L577.92 221.11 L601.60 214.97 L645.19 209.60" fill="none" stroke="#0072bd" stroke-width="1.3"/>
<rect x="241.6" y="209.6" width="403.6" height="76.70000000000002" fill="none" stroke="#262626" stroke-width="1.1"/>
<line x1="241.60" y1="286.30" x2="241.60" y2="283.70" stroke="#262626" stroke-width="1"/>
<line x1="241.60" y1="209.60" x2="241.60" y2="212.20" stroke="#262626" stroke-width="1"/>
<text x="241.6" y="295.2" font-size="8.4" font-weight="bold" fill="#000" stroke="#000" stroke-width="0.16" text-anchor="middle">0</text>
<line x1="308.87" y1="286.30" x2="308.87" y2="283.70" stroke="#262626" stroke-width="1"/>
<line x1="308.87" y1="209.60" x2="308.87" y2="212.20" stroke="#262626" stroke-width="1"/>
<text x="308.9" y="295.2" font-size="8.4" font-weight="bold" fill="#000" stroke="#000" stroke-width="0.16" text-anchor="middle">5</text>
<line x1="376.13" y1="286.30" x2="376.13" y2="283.70" stroke="#262626" stroke-width="1"/>
<line x1="376.13" y1="209.60" x2="376.13" y2="212.20" stroke="#262626" stroke-width="1"/>
<text x="376.1" y="295.2" font-size="8.4" font-weight="bold" fill="#000" stroke="#000" stroke-width="0.16" text-anchor="middle">10</text>
<line x1="443.39" y1="286.30" x2="443.39" y2="283.70" stroke="#262626" stroke-width="1"/>
<line x1="443.39" y1="209.60" x2="443.39" y2="212.20" stroke="#262626" stroke-width="1"/>
<text x="443.4" y="295.2" font-size="8.4" font-weight="bold" fill="#000" stroke="#000" stroke-width="0.16" text-anchor="middle">15</text>
<line x1="510.66" y1="286.30" x2="510.66" y2="283.70" stroke="#262626" stroke-width="1"/>
<line x1="510.66" y1="209.60" x2="510.66" y2="212.20" stroke="#262626" stroke-width="1"/>
<text x="510.7" y="295.2" font-size="8.4" font-weight="bold" fill="#000" stroke="#000" stroke-width="0.16" text-anchor="middle">20</text>
<line x1="577.92" y1="286.30" x2="577.92" y2="283.70" stroke="#262626" stroke-width="1"/>
<line x1="577.92" y1="209.60" x2="577.92" y2="212.20" stroke="#262626" stroke-width="1"/>
<text x="577.9" y="295.2" font-size="8.4" font-weight="bold" fill="#000" stroke="#000" stroke-width="0.16" text-anchor="middle">25</text>
<line x1="645.19" y1="286.30" x2="645.19" y2="283.70" stroke="#262626" stroke-width="1"/>
<line x1="645.19" y1="209.60" x2="645.19" y2="212.20" stroke="#262626" stroke-width="1"/>
<text x="645.2" y="295.2" font-size="8.4" font-weight="bold" fill="#000" stroke="#000" stroke-width="0.16" text-anchor="middle">30</text>
<line x1="241.60" y1="286.30" x2="244.40" y2="286.30" stroke="#262626" stroke-width="1"/>
<line x1="645.20" y1="286.30" x2="642.40" y2="286.30" stroke="#262626" stroke-width="1"/>
<text x="232.4" y="289.2" font-size="8.4" font-weight="bold" fill="#000" stroke="#000" stroke-width="0.16" text-anchor="middle">0</text>
<text x="654.6" y="289.2" font-size="8.4" font-weight="bold" fill="#000" stroke="#000" stroke-width="0.16" text-anchor="middle">0</text>
<line x1="241.60" y1="247.95" x2="244.40" y2="247.95" stroke="#262626" stroke-width="1"/>
<line x1="645.20" y1="247.95" x2="642.40" y2="247.95" stroke="#262626" stroke-width="1"/>
<text x="232.4" y="250.9" font-size="8.4" font-weight="bold" fill="#000" stroke="#000" stroke-width="0.16" text-anchor="middle">0.5</text>
<text x="654.6" y="250.9" font-size="8.4" font-weight="bold" fill="#000" stroke="#000" stroke-width="0.16" text-anchor="middle">0.5</text>
<line x1="241.60" y1="209.60" x2="244.40" y2="209.60" stroke="#262626" stroke-width="1"/>
<line x1="645.20" y1="209.60" x2="642.40" y2="209.60" stroke="#262626" stroke-width="1"/>
<text x="232.4" y="212.5" font-size="8.4" font-weight="bold" fill="#000" stroke="#000" stroke-width="0.16" text-anchor="middle">1</text>
<text x="654.6" y="212.5" font-size="8.4" font-weight="bold" fill="#000" stroke="#000" stroke-width="0.16" text-anchor="middle">1</text>
<text x="444.5" y="280.6" font-size="8.4" font-weight="bold" fill="#000" stroke="#000" stroke-width="0.16" text-anchor="middle">Time (s)</text>
<text x="213.6" y="248.3" font-size="8.4" font-weight="bold" fill="#000" stroke="#000" stroke-width="0.16" text-anchor="middle" transform="rotate(-90 213.6 248.3)">Normalized</text>
<text x="223.0" y="248.3" font-size="8.4" font-weight="bold" fill="#000" stroke="#000" stroke-width="0.16" text-anchor="middle" transform="rotate(-90 223.0 248.3)">Swim bladder Volume</text>
<text x="664.4" y="248.0" font-size="8.4" font-weight="bold" fill="#000" stroke="#000" stroke-width="0.16" text-anchor="middle" transform="rotate(90 664.4 248.0)">Normalized&#160; Height</text>
<line x1="531.60" y1="262.00" x2="547.00" y2="262.00" stroke="#0072bd" stroke-width="1.3"/>
<line x1="531.60" y1="274.50" x2="547.00" y2="274.50" stroke="#d95319" stroke-width="1.3"/>
<text x="552.3" y="265.2" font-size="8.4" font-weight="bold" fill="#000" stroke="#000" stroke-width="0.16" text-anchor="start">Swim bladder Volume</text>
<text x="552.3" y="277.8" font-size="8.4" font-weight="bold" fill="#000" stroke="#000" stroke-width="0.16" text-anchor="start">Zebrafish Z-Height</text>
<circle cx="245.8" cy="270.1" r="5.6" fill="#000"/>
<text x="245.8" y="273.0" font-size="8.2" font-weight="normal" fill="#fff" text-anchor="middle">1</text>
<circle cx="375.3" cy="242.8" r="5.6" fill="#000"/>
<text x="375.3" y="245.7" font-size="8.2" font-weight="normal" fill="#fff" text-anchor="middle">2</text>
<circle cx="511.0" cy="230.4" r="5.6" fill="#000"/>
<text x="511.0" y="233.3" font-size="8.2" font-weight="normal" fill="#fff" text-anchor="middle">3</text>
<circle cx="639.8" cy="210.2" r="5.6" fill="#000"/>
<text x="639.8" y="213.1" font-size="8.2" font-weight="normal" fill="#fff" text-anchor="middle">4</text>
<rect x="24.5" y="379.5" width="161.6" height="127.39999999999998" fill="none" stroke="#262626" stroke-width="1.1"/>
<line x1="38.00" y1="506.90" x2="38.00" y2="504.50" stroke="#262626" stroke-width="1"/>
<line x1="38.00" y1="379.50" x2="38.00" y2="381.90" stroke="#262626" stroke-width="1"/>
<text x="38.0" y="518.2" font-size="8.4" font-weight="bold" fill="#000" stroke="#000" stroke-width="0.16" text-anchor="middle">0</text>
<line x1="64.90" y1="506.90" x2="64.90" y2="504.50" stroke="#262626" stroke-width="1"/>
<line x1="64.90" y1="379.50" x2="64.90" y2="381.90" stroke="#262626" stroke-width="1"/>
<text x="64.9" y="518.2" font-size="8.4" font-weight="bold" fill="#000" stroke="#000" stroke-width="0.16" text-anchor="middle">1</text>
<line x1="91.80" y1="506.90" x2="91.80" y2="504.50" stroke="#262626" stroke-width="1"/>
<line x1="91.80" y1="379.50" x2="91.80" y2="381.90" stroke="#262626" stroke-width="1"/>
<text x="91.8" y="518.2" font-size="8.4" font-weight="bold" fill="#000" stroke="#000" stroke-width="0.16" text-anchor="middle">2</text>
<line x1="118.70" y1="506.90" x2="118.70" y2="504.50" stroke="#262626" stroke-width="1"/>
<line x1="118.70" y1="379.50" x2="118.70" y2="381.90" stroke="#262626" stroke-width="1"/>
<text x="118.7" y="518.2" font-size="8.4" font-weight="bold" fill="#000" stroke="#000" stroke-width="0.16" text-anchor="middle">3</text>
<line x1="145.60" y1="506.90" x2="145.60" y2="504.50" stroke="#262626" stroke-width="1"/>
<line x1="145.60" y1="379.50" x2="145.60" y2="381.90" stroke="#262626" stroke-width="1"/>
<text x="145.6" y="518.2" font-size="8.4" font-weight="bold" fill="#000" stroke="#000" stroke-width="0.16" text-anchor="middle">4</text>
<line x1="172.50" y1="506.90" x2="172.50" y2="504.50" stroke="#262626" stroke-width="1"/>
<line x1="172.50" y1="379.50" x2="172.50" y2="381.90" stroke="#262626" stroke-width="1"/>
<text x="172.5" y="518.2" font-size="8.4" font-weight="bold" fill="#000" stroke="#000" stroke-width="0.16" text-anchor="middle">5</text>
<line x1="24.50" y1="492.30" x2="26.90" y2="492.30" stroke="#262626" stroke-width="1"/>
<line x1="186.10" y1="492.30" x2="183.70" y2="492.30" stroke="#262626" stroke-width="1"/>
<text x="20.3" y="492.3" font-size="8.4" font-weight="bold" fill="#000" stroke="#000" stroke-width="0.16" text-anchor="middle" transform="rotate(-90 20.3 492.3)">0.04</text>
<line x1="24.50" y1="464.15" x2="26.90" y2="464.15" stroke="#262626" stroke-width="1"/>
<line x1="186.10" y1="464.15" x2="183.70" y2="464.15" stroke="#262626" stroke-width="1"/>
<text x="20.3" y="464.1" font-size="8.4" font-weight="bold" fill="#000" stroke="#000" stroke-width="0.16" text-anchor="middle" transform="rotate(-90 20.3 464.15)">0.06</text>
<line x1="24.50" y1="436.00" x2="26.90" y2="436.00" stroke="#262626" stroke-width="1"/>
<line x1="186.10" y1="436.00" x2="183.70" y2="436.00" stroke="#262626" stroke-width="1"/>
<text x="20.3" y="436.0" font-size="8.4" font-weight="bold" fill="#000" stroke="#000" stroke-width="0.16" text-anchor="middle" transform="rotate(-90 20.3 436.0)">0.08</text>
<line x1="24.50" y1="407.85" x2="26.90" y2="407.85" stroke="#262626" stroke-width="1"/>
<line x1="186.10" y1="407.85" x2="183.70" y2="407.85" stroke="#262626" stroke-width="1"/>
<text x="20.3" y="407.9" font-size="8.4" font-weight="bold" fill="#000" stroke="#000" stroke-width="0.16" text-anchor="middle" transform="rotate(-90 20.3 407.85)">0.10</text>
<text x="103.4" y="530.6" font-size="8.4" font-weight="bold" fill="#000" stroke="#000" stroke-width="0.16" text-anchor="middle">Z (mm)</text>
<text x="9.4" y="446.9" font-size="8.4" font-weight="bold" fill="#000" stroke="#000" stroke-width="0.16" text-anchor="middle" transform="rotate(-90 9.4 446.9)">Volume (mm<tspan font-size="5.6" dy="-3">3</tspan><tspan dy="3">)</tspan></text>
<circle cx="64.2" cy="407.2" r="2.1" fill="#2a8cff"/>
<circle cx="62.9" cy="423.9" r="2.1" fill="#ffaa2a"/>
<circle cx="59.3" cy="428.2" r="2.1" fill="#f85a64"/>
<circle cx="53.8" cy="435.5" r="2.1" fill="#f85a64"/>
<circle cx="90.4" cy="447.7" r="2.1" fill="#2a8cff"/>
<circle cx="100.6" cy="449.3" r="2.1" fill="#2a8cff"/>
<circle cx="58.5" cy="450.0" r="2.1" fill="#f85a64"/>
<circle cx="54.6" cy="453.2" r="2.1" fill="#2a8cff"/>
<circle cx="49.5" cy="458.1" r="2.1" fill="#f85a64"/>
<circle cx="57.6" cy="457.9" r="2.1" fill="#2a8cff"/>
<circle cx="63.3" cy="456.0" r="2.1" fill="#2a8cff"/>
<circle cx="59.8" cy="467.1" r="2.1" fill="#ffaa2a"/>
<circle cx="64.0" cy="465.6" r="2.1" fill="#ffaa2a"/>
<circle cx="48.5" cy="467.8" r="2.1" fill="#f85a64"/>
<circle cx="49.7" cy="470.5" r="2.1" fill="#2a8cff"/>
<circle cx="63.1" cy="469.6" r="2.1" fill="#2a8cff"/>
<circle cx="61.3" cy="471.7" r="2.1" fill="#f85a64"/>
<circle cx="61.6" cy="474.3" r="2.1" fill="#f85a64"/>
<circle cx="50.0" cy="475.0" r="2.1" fill="#f85a64"/>
<circle cx="46.7" cy="477.0" r="2.1" fill="#f85a64"/>
<circle cx="49.3" cy="477.3" r="2.1" fill="#2a8cff"/>
<circle cx="46.7" cy="479.1" r="2.1" fill="#f85a64"/>
<circle cx="83.1" cy="473.2" r="2.1" fill="#ffaa2a"/>
<circle cx="39.1" cy="482.6" r="2.1" fill="#f85a64"/>
<circle cx="48.1" cy="486.8" r="2.1" fill="#f85a64"/>
<circle cx="52.6" cy="486.3" r="2.1" fill="#f85a64"/>
<circle cx="52.0" cy="491.0" r="2.1" fill="#f85a64"/>
<circle cx="39.2" cy="494.1" r="2.1" fill="#f85a64"/>
<circle cx="47.8" cy="497.9" r="2.1" fill="#f85a64"/>
<circle cx="101.8" cy="428.3" r="2.1" fill="#2a8cff"/>
<circle cx="106.0" cy="425.7" r="2.1" fill="#2a8cff"/>
<circle cx="121.0" cy="427.6" r="2.1" fill="#ffaa2a"/>
<circle cx="122.1" cy="430.4" r="2.1" fill="#2a8cff"/>
<circle cx="121.9" cy="445.6" r="2.1" fill="#2a8cff"/>
<circle cx="158.5" cy="426.3" r="2.1" fill="#ffaa2a"/>
<circle cx="147.8" cy="440.4" r="2.1" fill="#ffaa2a"/>
<circle cx="156.0" cy="446.9" r="2.1" fill="#ffaa2a"/>
<circle cx="148.7" cy="450.9" r="2.1" fill="#ffaa2a"/>
<circle cx="158.9" cy="451.8" r="2.1" fill="#ffaa2a"/>
<circle cx="164.9" cy="445.0" r="2.1" fill="#2a8cff"/>
<defs><radialGradient id="tealg" cx="0.55" cy="0.35" r="0.75">
<stop offset="0" stop-color="#3cbcbc"/><stop offset="0.6" stop-color="#1fa2a2"/><stop offset="1" stop-color="#138888"/></radialGradient></defs>
<line x1="252.82" y1="379.02" x2="251.18" y2="324.10" stroke="#e4e4e4" stroke-width="0.5"/>
<line x1="244.05" y1="372.25" x2="277.50" y2="344.43" stroke="#e4e4e4" stroke-width="0.5"/>
<line x1="261.05" y1="371.85" x2="259.95" y2="317.80" stroke="#e4e4e4" stroke-width="0.5"/>
<line x1="243.50" y1="358.30" x2="277.50" y2="331.35" stroke="#e4e4e4" stroke-width="0.5"/>
<line x1="269.27" y1="364.68" x2="268.73" y2="311.50" stroke="#e4e4e4" stroke-width="0.5"/>
<line x1="242.95" y1="344.35" x2="277.50" y2="318.27" stroke="#e4e4e4" stroke-width="0.5"/>
<line x1="290.88" y1="361.75" x2="291.27" y2="308.80" stroke="#e4e4e4" stroke-width="0.5"/>
<line x1="277.50" y1="344.43" x2="331.40" y2="360.77" stroke="#e4e4e4" stroke-width="0.5"/>
<line x1="304.25" y1="366.00" x2="305.05" y2="312.40" stroke="#e4e4e4" stroke-width="0.5"/>
<line x1="277.50" y1="331.35" x2="331.80" y2="347.05" stroke="#e4e4e4" stroke-width="0.5"/>
<line x1="317.62" y1="370.25" x2="318.83" y2="316.00" stroke="#e4e4e4" stroke-width="0.5"/>
<line x1="277.50" y1="318.27" x2="332.20" y2="333.33" stroke="#e4e4e4" stroke-width="0.5"/>
<line x1="258.75" y1="390.98" x2="290.88" y2="361.75" stroke="#e4e4e4" stroke-width="0.5"/>
<line x1="252.82" y1="379.02" x2="308.65" y2="397.60" stroke="#e4e4e4" stroke-width="0.5"/>
<line x1="272.90" y1="395.75" x2="304.25" y2="366.00" stroke="#e4e4e4" stroke-width="0.5"/>
<line x1="261.05" y1="371.85" x2="316.10" y2="389.90" stroke="#e4e4e4" stroke-width="0.5"/>
<line x1="287.05" y1="400.52" x2="317.62" y2="370.25" stroke="#e4e4e4" stroke-width="0.5"/>
<line x1="269.27" y1="364.68" x2="323.55" y2="382.20" stroke="#e4e4e4" stroke-width="0.5"/>
<path d="M244.60 386.20 L242.40 330.40 L277.50 305.20 L332.60 319.60" fill="none" stroke="#d8d8d8" stroke-width="0.6"/>
<line x1="277.50" y1="305.20" x2="277.50" y2="357.50" stroke="#d8d8d8" stroke-width="0.6"/>
<path d="M244.60 386.20 L277.50 357.50 L331.00 374.50" fill="none" stroke="#d8d8d8" stroke-width="0.6"/>
<path d="M244.60 386.20 L301.20 405.30 L331.00 374.50" fill="none" stroke="#505050" stroke-width="0.7"/>
<line x1="332.60" y1="319.60" x2="331.00" y2="374.50" stroke="#505050" stroke-width="0.7"/>
<text x="242.5" y="393.2" font-size="4.6" font-weight="normal" fill="#222" text-anchor="middle">0</text>
<text x="257.1" y="398.0" font-size="4.6" font-weight="normal" fill="#222" text-anchor="middle">2</text>
<text x="271.3" y="402.8" font-size="4.6" font-weight="normal" fill="#222" text-anchor="middle">4</text>
<text x="285.4" y="407.5" font-size="4.6" font-weight="normal" fill="#222" text-anchor="middle">6</text>
<text x="299.2" y="411.5" font-size="4.6" font-weight="normal" fill="#222" text-anchor="middle">8</text>
<text x="303.4" y="411.3" font-size="4.6" font-weight="normal" fill="#222" text-anchor="middle">0</text>
<text x="311.2" y="403.0" font-size="4.6" font-weight="normal" fill="#222" text-anchor="middle">2</text>
<text x="318.7" y="395.3" font-size="4.6" font-weight="normal" fill="#222" text-anchor="middle">4</text>
<text x="326.2" y="387.6" font-size="4.6" font-weight="normal" fill="#222" text-anchor="middle">6</text>
<text x="333.6" y="379.9" font-size="4.6" font-weight="normal" fill="#222" text-anchor="middle">8</text>
<text x="336.0" y="376.3" font-size="4.6" font-weight="normal" fill="#222" text-anchor="middle">0</text>
<text x="336.4" y="362.6" font-size="4.6" font-weight="normal" fill="#222" text-anchor="middle">2</text>
<text x="336.8" y="348.9" font-size="4.6" font-weight="normal" fill="#222" text-anchor="middle">4</text>
<text x="337.2" y="335.1" font-size="4.6" font-weight="normal" fill="#222" text-anchor="middle">6</text>
<text x="337.6" y="321.4" font-size="4.6" font-weight="normal" fill="#222" text-anchor="middle">8</text>
<text x="265.2" y="409.2" font-size="5.6" font-weight="bold" fill="#000" text-anchor="middle">X (mm)</text>
<text x="333.0" y="396.9" font-size="5.6" font-weight="bold" fill="#000" text-anchor="middle">Y (mm)</text>
<text x="342.6" y="349.2" font-size="5.6" font-weight="bold" fill="#000" text-anchor="middle" transform="rotate(-90 342.6 349.25)">Z (mm)</text>
<line x1="275.20" y1="355.30" x2="275.60" y2="369.80" stroke="#8a8a8a" stroke-width="0.6"/>
<line x1="275.20" y1="355.30" x2="285.50" y2="347.00" stroke="#5a3c98" stroke-width="0.8"/>
<circle cx="285.5" cy="347.0" r="1.3" fill="#2a6ab8"/>
<circle cx="275.2" cy="355.3" r="1.3" fill="#1a9a9a"/>
<circle cx="275.6" cy="369.8" r="1.1" fill="#2a80c8"/>
<circle cx="248.4" cy="313.4" r="6.2" fill="#000"/>
<text x="248.4" y="316.3" font-size="9" font-weight="normal" fill="#fff" text-anchor="middle">1</text>
<line x1="362.83" y1="378.02" x2="361.17" y2="323.10" stroke="#e4e4e4" stroke-width="0.5"/>
<line x1="354.05" y1="371.25" x2="387.50" y2="343.43" stroke="#e4e4e4" stroke-width="0.5"/>
<line x1="371.05" y1="370.85" x2="369.95" y2="316.80" stroke="#e4e4e4" stroke-width="0.5"/>
<line x1="353.50" y1="357.30" x2="387.50" y2="330.35" stroke="#e4e4e4" stroke-width="0.5"/>
<line x1="379.27" y1="363.68" x2="378.73" y2="310.50" stroke="#e4e4e4" stroke-width="0.5"/>
<line x1="352.95" y1="343.35" x2="387.50" y2="317.27" stroke="#e4e4e4" stroke-width="0.5"/>
<line x1="400.88" y1="360.75" x2="401.27" y2="307.80" stroke="#e4e4e4" stroke-width="0.5"/>
<line x1="387.50" y1="343.43" x2="441.40" y2="359.77" stroke="#e4e4e4" stroke-width="0.5"/>
<line x1="414.25" y1="365.00" x2="415.05" y2="311.40" stroke="#e4e4e4" stroke-width="0.5"/>
<line x1="387.50" y1="330.35" x2="441.80" y2="346.05" stroke="#e4e4e4" stroke-width="0.5"/>
<line x1="427.62" y1="369.25" x2="428.83" y2="315.00" stroke="#e4e4e4" stroke-width="0.5"/>
<line x1="387.50" y1="317.27" x2="442.20" y2="332.33" stroke="#e4e4e4" stroke-width="0.5"/>
<line x1="368.75" y1="389.98" x2="400.88" y2="360.75" stroke="#e4e4e4" stroke-width="0.5"/>
<line x1="362.83" y1="378.02" x2="418.65" y2="396.60" stroke="#e4e4e4" stroke-width="0.5"/>
<line x1="382.90" y1="394.75" x2="414.25" y2="365.00" stroke="#e4e4e4" stroke-width="0.5"/>
<line x1="371.05" y1="370.85" x2="426.10" y2="388.90" stroke="#e4e4e4" stroke-width="0.5"/>
<line x1="397.05" y1="399.52" x2="427.62" y2="369.25" stroke="#e4e4e4" stroke-width="0.5"/>
<line x1="379.27" y1="363.68" x2="433.55" y2="381.20" stroke="#e4e4e4" stroke-width="0.5"/>
<path d="M354.60 385.20 L352.40 329.40 L387.50 304.20 L442.60 318.60" fill="none" stroke="#d8d8d8" stroke-width="0.6"/>
<line x1="387.50" y1="304.20" x2="387.50" y2="356.50" stroke="#d8d8d8" stroke-width="0.6"/>
<path d="M354.60 385.20 L387.50 356.50 L441.00 373.50" fill="none" stroke="#d8d8d8" stroke-width="0.6"/>
<path d="M354.60 385.20 L411.20 404.30 L441.00 373.50" fill="none" stroke="#505050" stroke-width="0.7"/>
<line x1="442.60" y1="318.60" x2="441.00" y2="373.50" stroke="#505050" stroke-width="0.7"/>
<text x="352.5" y="392.2" font-size="4.6" font-weight="normal" fill="#222" text-anchor="middle">0</text>
<text x="367.1" y="397.0" font-size="4.6" font-weight="normal" fill="#222" text-anchor="middle">2</text>
<text x="381.3" y="401.8" font-size="4.6" font-weight="normal" fill="#222" text-anchor="middle">4</text>
<text x="395.4" y="406.5" font-size="4.6" font-weight="normal" fill="#222" text-anchor="middle">6</text>
<text x="409.2" y="410.5" font-size="4.6" font-weight="normal" fill="#222" text-anchor="middle">8</text>
<text x="413.4" y="410.3" font-size="4.6" font-weight="normal" fill="#222" text-anchor="middle">0</text>
<text x="421.2" y="402.0" font-size="4.6" font-weight="normal" fill="#222" text-anchor="middle">2</text>
<text x="428.7" y="394.3" font-size="4.6" font-weight="normal" fill="#222" text-anchor="middle">4</text>
<text x="436.2" y="386.6" font-size="4.6" font-weight="normal" fill="#222" text-anchor="middle">6</text>
<text x="443.6" y="378.9" font-size="4.6" font-weight="normal" fill="#222" text-anchor="middle">8</text>
<text x="446.0" y="375.3" font-size="4.6" font-weight="normal" fill="#222" text-anchor="middle">0</text>
<text x="446.4" y="361.6" font-size="4.6" font-weight="normal" fill="#222" text-anchor="middle">2</text>
<text x="446.8" y="347.9" font-size="4.6" font-weight="normal" fill="#222" text-anchor="middle">4</text>
<text x="447.2" y="334.1" font-size="4.6" font-weight="normal" fill="#222" text-anchor="middle">6</text>
<text x="447.6" y="320.4" font-size="4.6" font-weight="normal" fill="#222" text-anchor="middle">8</text>
<text x="375.2" y="408.2" font-size="5.6" font-weight="bold" fill="#000" text-anchor="middle">X (mm)</text>
<text x="443.0" y="395.9" font-size="5.6" font-weight="bold" fill="#000" text-anchor="middle">Y (mm)</text>
<text x="452.6" y="348.2" font-size="5.6" font-weight="bold" fill="#000" text-anchor="middle" transform="rotate(-90 452.6 348.25)">Z (mm)</text>
<line x1="420.50" y1="343.80" x2="418.80" y2="373.90" stroke="#8a8a8a" stroke-width="0.6"/>
<line x1="386.40" y1="354.00" x2="400.00" y2="349.50" stroke="#5a3c98" stroke-width="0.8"/>
<line x1="400.00" y1="349.50" x2="412.00" y2="346.50" stroke="#2a98a0" stroke-width="0.8"/>
<line x1="412.00" y1="346.50" x2="420.50" y2="343.80" stroke="#a8d848" stroke-width="0.8"/>
<line x1="420.50" y1="343.80" x2="426.70" y2="337.80" stroke="#7a8aa8" stroke-width="0.6"/>
<circle cx="386.4" cy="354.0" r="1.1" fill="#6040a0"/>
<circle cx="420.5" cy="343.8" r="1.3" fill="#1a9a80"/>
<circle cx="426.7" cy="337.8" r="1.1" fill="#2a6ac8"/>
<circle cx="418.8" cy="373.9" r="1.1" fill="#2a80c8"/>
<circle cx="357.5" cy="311.8" r="6.2" fill="#000"/>
<text x="357.5" y="314.7" font-size="9" font-weight="normal" fill="#fff" text-anchor="middle">2</text>
<line x1="472.83" y1="377.22" x2="471.17" y2="322.30" stroke="#e4e4e4" stroke-width="0.5"/>
<line x1="464.05" y1="370.45" x2="497.50" y2="342.62" stroke="#e4e4e4" stroke-width="0.5"/>
<line x1="481.05" y1="370.05" x2="479.95" y2="316.00" stroke="#e4e4e4" stroke-width="0.5"/>
<line x1="463.50" y1="356.50" x2="497.50" y2="329.55" stroke="#e4e4e4" stroke-width="0.5"/>
<line x1="489.27" y1="362.88" x2="488.73" y2="309.70" stroke="#e4e4e4" stroke-width="0.5"/>
<line x1="462.95" y1="342.55" x2="497.50" y2="316.47" stroke="#e4e4e4" stroke-width="0.5"/>
<line x1="510.88" y1="359.95" x2="511.27" y2="307.00" stroke="#e4e4e4" stroke-width="0.5"/>
<line x1="497.50" y1="342.62" x2="551.40" y2="358.98" stroke="#e4e4e4" stroke-width="0.5"/>
<line x1="524.25" y1="364.20" x2="525.05" y2="310.60" stroke="#e4e4e4" stroke-width="0.5"/>
<line x1="497.50" y1="329.55" x2="551.80" y2="345.25" stroke="#e4e4e4" stroke-width="0.5"/>
<line x1="537.62" y1="368.45" x2="538.83" y2="314.20" stroke="#e4e4e4" stroke-width="0.5"/>
<line x1="497.50" y1="316.47" x2="552.20" y2="331.52" stroke="#e4e4e4" stroke-width="0.5"/>
<line x1="478.75" y1="389.17" x2="510.88" y2="359.95" stroke="#e4e4e4" stroke-width="0.5"/>
<line x1="472.83" y1="377.22" x2="528.65" y2="395.80" stroke="#e4e4e4" stroke-width="0.5"/>
<line x1="492.90" y1="393.95" x2="524.25" y2="364.20" stroke="#e4e4e4" stroke-width="0.5"/>
<line x1="481.05" y1="370.05" x2="536.10" y2="388.10" stroke="#e4e4e4" stroke-width="0.5"/>
<line x1="507.05" y1="398.73" x2="537.62" y2="368.45" stroke="#e4e4e4" stroke-width="0.5"/>
<line x1="489.27" y1="362.88" x2="543.55" y2="380.40" stroke="#e4e4e4" stroke-width="0.5"/>
<path d="M464.60 384.40 L462.40 328.60 L497.50 303.40 L552.60 317.80" fill="none" stroke="#d8d8d8" stroke-width="0.6"/>
<line x1="497.50" y1="303.40" x2="497.50" y2="355.70" stroke="#d8d8d8" stroke-width="0.6"/>
<path d="M464.60 384.40 L497.50 355.70 L551.00 372.70" fill="none" stroke="#d8d8d8" stroke-width="0.6"/>
<path d="M464.60 384.40 L521.20 403.50 L551.00 372.70" fill="none" stroke="#505050" stroke-width="0.7"/>
<line x1="552.60" y1="317.80" x2="551.00" y2="372.70" stroke="#505050" stroke-width="0.7"/>
<text x="462.5" y="391.4" font-size="4.6" font-weight="normal" fill="#222" text-anchor="middle">0</text>
<text x="477.1" y="396.2" font-size="4.6" font-weight="normal" fill="#222" text-anchor="middle">2</text>
<text x="491.3" y="400.9" font-size="4.6" font-weight="normal" fill="#222" text-anchor="middle">4</text>
<text x="505.5" y="405.7" font-size="4.6" font-weight="normal" fill="#222" text-anchor="middle">6</text>
<text x="519.2" y="409.7" font-size="4.6" font-weight="normal" fill="#222" text-anchor="middle">8</text>
<text x="523.4" y="409.5" font-size="4.6" font-weight="normal" fill="#222" text-anchor="middle">0</text>
<text x="531.3" y="401.2" font-size="4.6" font-weight="normal" fill="#222" text-anchor="middle">2</text>
<text x="538.7" y="393.5" font-size="4.6" font-weight="normal" fill="#222" text-anchor="middle">4</text>
<text x="546.1" y="385.8" font-size="4.6" font-weight="normal" fill="#222" text-anchor="middle">6</text>
<text x="553.6" y="378.1" font-size="4.6" font-weight="normal" fill="#222" text-anchor="middle">8</text>
<text x="556.0" y="374.5" font-size="4.6" font-weight="normal" fill="#222" text-anchor="middle">0</text>
<text x="556.4" y="360.8" font-size="4.6" font-weight="normal" fill="#222" text-anchor="middle">2</text>
<text x="556.8" y="347.1" font-size="4.6" font-weight="normal" fill="#222" text-anchor="middle">4</text>
<text x="557.2" y="333.3" font-size="4.6" font-weight="normal" fill="#222" text-anchor="middle">6</text>
<text x="557.6" y="319.6" font-size="4.6" font-weight="normal" fill="#222" text-anchor="middle">8</text>
<text x="485.2" y="407.4" font-size="5.6" font-weight="bold" fill="#000" text-anchor="middle">X (mm)</text>
<text x="553.0" y="395.1" font-size="5.6" font-weight="bold" fill="#000" text-anchor="middle">Y (mm)</text>
<text x="562.6" y="347.4" font-size="5.6" font-weight="bold" fill="#000" text-anchor="middle" transform="rotate(-90 562.6 347.45)">Z (mm)</text>
<line x1="537.10" y1="336.10" x2="536.10" y2="373.70" stroke="#8a8a8a" stroke-width="0.6"/>
<line x1="498.30" y1="352.60" x2="516.90" y2="347.50" stroke="#5a3c98" stroke-width="0.8"/>
<line x1="516.90" y1="347.50" x2="529.30" y2="343.30" stroke="#4a5aa8" stroke-width="0.8"/>
<line x1="529.30" y1="343.30" x2="531.00" y2="342.20" stroke="#2a98a0" stroke-width="0.8"/>
<line x1="531.00" y1="342.20" x2="534.50" y2="338.20" stroke="#70c860" stroke-width="0.8"/>
<line x1="534.50" y1="338.20" x2="537.10" y2="336.10" stroke="#a8d848" stroke-width="0.8"/>
<line x1="537.10" y1="336.10" x2="542.70" y2="331.00" stroke="#7a8aa8" stroke-width="0.6"/>
<circle cx="498.3" cy="352.6" r="1.1" fill="#6040a0"/>
<circle cx="537.1" cy="336.1" r="1.3" fill="#1a9a80"/>
<circle cx="542.7" cy="331.0" r="1.1" fill="#2a6ac8"/>
<circle cx="536.1" cy="373.7" r="1.1" fill="#2a80c8"/>
<circle cx="469.9" cy="309.3" r="6.2" fill="#000"/>
<text x="469.9" y="312.2" font-size="9" font-weight="normal" fill="#fff" text-anchor="middle">3</text>
<line x1="583.33" y1="379.42" x2="581.67" y2="324.50" stroke="#e4e4e4" stroke-width="0.5"/>
<line x1="574.55" y1="372.65" x2="608.00" y2="344.82" stroke="#e4e4e4" stroke-width="0.5"/>
<line x1="591.55" y1="372.25" x2="590.45" y2="318.20" stroke="#e4e4e4" stroke-width="0.5"/>
<line x1="574.00" y1="358.70" x2="608.00" y2="331.75" stroke="#e4e4e4" stroke-width="0.5"/>
<line x1="599.77" y1="365.07" x2="599.23" y2="311.90" stroke="#e4e4e4" stroke-width="0.5"/>
<line x1="573.45" y1="344.75" x2="608.00" y2="318.67" stroke="#e4e4e4" stroke-width="0.5"/>
<line x1="621.38" y1="362.15" x2="621.77" y2="309.20" stroke="#e4e4e4" stroke-width="0.5"/>
<line x1="608.00" y1="344.82" x2="661.90" y2="361.17" stroke="#e4e4e4" stroke-width="0.5"/>
<line x1="634.75" y1="366.40" x2="635.55" y2="312.80" stroke="#e4e4e4" stroke-width="0.5"/>
<line x1="608.00" y1="331.75" x2="662.30" y2="347.45" stroke="#e4e4e4" stroke-width="0.5"/>
<line x1="648.12" y1="370.65" x2="649.33" y2="316.40" stroke="#e4e4e4" stroke-width="0.5"/>
<line x1="608.00" y1="318.67" x2="662.70" y2="333.73" stroke="#e4e4e4" stroke-width="0.5"/>
<line x1="589.25" y1="391.38" x2="621.38" y2="362.15" stroke="#e4e4e4" stroke-width="0.5"/>
<line x1="583.33" y1="379.42" x2="639.15" y2="398.00" stroke="#e4e4e4" stroke-width="0.5"/>
<line x1="603.40" y1="396.15" x2="634.75" y2="366.40" stroke="#e4e4e4" stroke-width="0.5"/>
<line x1="591.55" y1="372.25" x2="646.60" y2="390.30" stroke="#e4e4e4" stroke-width="0.5"/>
<line x1="617.55" y1="400.92" x2="648.12" y2="370.65" stroke="#e4e4e4" stroke-width="0.5"/>
<line x1="599.77" y1="365.07" x2="654.05" y2="382.60" stroke="#e4e4e4" stroke-width="0.5"/>
<path d="M575.10 386.60 L572.90 330.80 L608.00 305.60 L663.10 320.00" fill="none" stroke="#d8d8d8" stroke-width="0.6"/>
<line x1="608.00" y1="305.60" x2="608.00" y2="357.90" stroke="#d8d8d8" stroke-width="0.6"/>
<path d="M575.10 386.60 L608.00 357.90 L661.50 374.90" fill="none" stroke="#d8d8d8" stroke-width="0.6"/>
<path d="M575.10 386.60 L631.70 405.70 L661.50 374.90" fill="none" stroke="#505050" stroke-width="0.7"/>
<line x1="663.10" y1="320.00" x2="661.50" y2="374.90" stroke="#505050" stroke-width="0.7"/>
<text x="573.0" y="393.6" font-size="4.6" font-weight="normal" fill="#222" text-anchor="middle">0</text>
<text x="587.6" y="398.4" font-size="4.6" font-weight="normal" fill="#222" text-anchor="middle">2</text>
<text x="601.8" y="403.1" font-size="4.6" font-weight="normal" fill="#222" text-anchor="middle">4</text>
<text x="616.0" y="407.9" font-size="4.6" font-weight="normal" fill="#222" text-anchor="middle">6</text>
<text x="629.7" y="411.9" font-size="4.6" font-weight="normal" fill="#222" text-anchor="middle">8</text>
<text x="633.9" y="411.7" font-size="4.6" font-weight="normal" fill="#222" text-anchor="middle">0</text>
<text x="641.8" y="403.4" font-size="4.6" font-weight="normal" fill="#222" text-anchor="middle">2</text>
<text x="649.2" y="395.7" font-size="4.6" font-weight="normal" fill="#222" text-anchor="middle">4</text>
<text x="656.6" y="388.0" font-size="4.6" font-weight="normal" fill="#222" text-anchor="middle">6</text>
<text x="664.1" y="380.3" font-size="4.6" font-weight="normal" fill="#222" text-anchor="middle">8</text>
<text x="666.5" y="376.7" font-size="4.6" font-weight="normal" fill="#222" text-anchor="middle">0</text>
<text x="666.9" y="363.0" font-size="4.6" font-weight="normal" fill="#222" text-anchor="middle">2</text>
<text x="667.3" y="349.2" font-size="4.6" font-weight="normal" fill="#222" text-anchor="middle">4</text>
<text x="667.7" y="335.5" font-size="4.6" font-weight="normal" fill="#222" text-anchor="middle">6</text>
<text x="668.1" y="321.8" font-size="4.6" font-weight="normal" fill="#222" text-anchor="middle">8</text>
<text x="595.7" y="409.6" font-size="5.6" font-weight="bold" fill="#000" text-anchor="middle">X (mm)</text>
<text x="663.5" y="397.3" font-size="5.6" font-weight="bold" fill="#000" text-anchor="middle">Y (mm)</text>
<text x="673.1" y="349.6" font-size="5.6" font-weight="bold" fill="#000" text-anchor="middle" transform="rotate(-90 673.1 349.65)">Z (mm)</text>
<line x1="649.20" y1="336.70" x2="648.60" y2="377.40" stroke="#8a8a8a" stroke-width="0.6"/>
<line x1="609.40" y1="355.30" x2="626.90" y2="349.50" stroke="#5a3c98" stroke-width="0.8"/>
<line x1="626.90" y1="349.50" x2="641.40" y2="345.80" stroke="#3a78a8" stroke-width="0.8"/>
<line x1="641.40" y1="345.80" x2="643.40" y2="342.30" stroke="#40b088" stroke-width="0.8"/>
<line x1="643.40" y1="342.30" x2="649.20" y2="336.70" stroke="#a8d848" stroke-width="0.8"/>
<line x1="649.20" y1="336.70" x2="654.80" y2="331.40" stroke="#7a8aa8" stroke-width="0.6"/>
<circle cx="609.4" cy="355.3" r="1.1" fill="#6040a0"/>
<circle cx="649.2" cy="336.7" r="1.3" fill="#1a9a80"/>
<circle cx="654.8" cy="331.4" r="1.1" fill="#2a6ac8"/>
<circle cx="648.6" cy="377.4" r="1.1" fill="#2a80c8"/>
<circle cx="579.0" cy="309.3" r="6.2" fill="#000"/>
<text x="579.0" y="312.2" font-size="9" font-weight="normal" fill="#fff" text-anchor="middle">4</text>
<path d="M245.30 496.30 L243.80 439.90 L277.30 415.80 L333.00 429.60" fill="none" stroke="#d0d0d0" stroke-width="0.6"/>
<line x1="277.30" y1="415.80" x2="277.30" y2="469.30" stroke="#d0d0d0" stroke-width="0.6"/>
<path d="M245.30 496.30 L277.30 469.30 L331.00 483.30" fill="none" stroke="#d0d0d0" stroke-width="0.6"/>
<path d="M245.30 496.30 L301.60 515.30 L331.00 483.30" fill="none" stroke="#505050" stroke-width="0.7"/>
<line x1="333.00" y1="429.60" x2="331.00" y2="483.30" stroke="#505050" stroke-width="0.7"/>
<ellipse cx="288.9" cy="463.4" rx="10.8" ry="9.3" transform="rotate(-40 288.9 463.4)" fill="url(#tealg)"/>
<text x="244.3" y="503.5" font-size="4.6" font-weight="normal" fill="#222" text-anchor="middle">0</text>
<text x="265.9" y="513.3" font-size="5.6" font-weight="bold" fill="#000" text-anchor="middle">X (mm)</text>
<text x="299.6" y="520.9" font-size="4.6" font-weight="normal" fill="#222" text-anchor="middle">1</text>
<text x="303.8" y="520.7" font-size="4.6" font-weight="normal" fill="#222" text-anchor="middle">0</text>
<text x="334.2" y="489.9" font-size="4.6" font-weight="normal" fill="#222" text-anchor="middle">1</text>
<text x="334.6" y="485.1" font-size="4.6" font-weight="normal" fill="#222" text-anchor="middle">0</text>
<text x="328.3" y="507.0" font-size="5.6" font-weight="bold" fill="#000" text-anchor="middle">Y (mm)</text>
<text x="337.4" y="431.6" font-size="4.6" font-weight="normal" fill="#222" text-anchor="middle">1</text>
<text x="340.2" y="459.5" font-size="5.6" font-weight="bold" fill="#000" text-anchor="middle" transform="rotate(-90 340.2 459.45000000000005)">Z (mm)</text>
<path d="M355.30 497.70 L353.80 441.00 L387.30 416.20 L443.00 430.00" fill="none" stroke="#d0d0d0" stroke-width="0.6"/>
<line x1="387.30" y1="416.20" x2="387.30" y2="469.70" stroke="#d0d0d0" stroke-width="0.6"/>
<path d="M355.30 497.70 L387.30 469.70 L441.00 485.30" fill="none" stroke="#d0d0d0" stroke-width="0.6"/>
<path d="M355.30 497.70 L411.60 516.30 L441.00 485.30" fill="none" stroke="#505050" stroke-width="0.7"/>
<line x1="443.00" y1="430.00" x2="441.00" y2="485.30" stroke="#505050" stroke-width="0.7"/>
<ellipse cx="398.8" cy="464.4" rx="13.6" ry="8.6" transform="rotate(-8 398.8 464.4)" fill="url(#tealg)"/>
<text x="354.3" y="504.9" font-size="4.6" font-weight="normal" fill="#222" text-anchor="middle">0</text>
<text x="375.9" y="514.7" font-size="5.6" font-weight="bold" fill="#000" text-anchor="middle">X (mm)</text>
<text x="409.6" y="521.9" font-size="4.6" font-weight="normal" fill="#222" text-anchor="middle">1</text>
<text x="413.8" y="521.7" font-size="4.6" font-weight="normal" fill="#222" text-anchor="middle">0</text>
<text x="444.2" y="491.9" font-size="4.6" font-weight="normal" fill="#222" text-anchor="middle">1</text>
<text x="444.6" y="487.1" font-size="4.6" font-weight="normal" fill="#222" text-anchor="middle">0</text>
<text x="438.3" y="509.0" font-size="5.6" font-weight="bold" fill="#000" text-anchor="middle">Y (mm)</text>
<text x="447.4" y="432.0" font-size="4.6" font-weight="normal" fill="#222" text-anchor="middle">1</text>
<text x="450.2" y="460.6" font-size="5.6" font-weight="bold" fill="#000" text-anchor="middle" transform="rotate(-90 450.2 460.65)">Z (mm)</text>
<path d="M464.70 495.70 L462.20 439.90 L497.30 415.20 L552.60 429.60" fill="none" stroke="#d0d0d0" stroke-width="0.6"/>
<line x1="497.30" y1="415.20" x2="497.30" y2="468.70" stroke="#d0d0d0" stroke-width="0.6"/>
<path d="M464.70 495.70 L497.30 468.70 L550.50 483.70" fill="none" stroke="#d0d0d0" stroke-width="0.6"/>
<path d="M464.70 495.70 L520.00 514.20 L550.50 483.70" fill="none" stroke="#505050" stroke-width="0.7"/>
<line x1="552.60" y1="429.60" x2="550.50" y2="483.70" stroke="#505050" stroke-width="0.7"/>
<ellipse cx="508.6" cy="462.8" rx="13.0" ry="9.5" transform="rotate(-6 508.6 462.8)" fill="url(#tealg)"/>
<text x="463.7" y="502.9" font-size="4.6" font-weight="normal" fill="#222" text-anchor="middle">0</text>
<text x="485.3" y="512.7" font-size="5.6" font-weight="bold" fill="#000" text-anchor="middle">X (mm)</text>
<text x="518.0" y="519.8" font-size="4.6" font-weight="normal" fill="#222" text-anchor="middle">1</text>
<text x="522.2" y="519.6" font-size="4.6" font-weight="normal" fill="#222" text-anchor="middle">0</text>
<text x="553.7" y="490.3" font-size="4.6" font-weight="normal" fill="#222" text-anchor="middle">1</text>
<text x="554.1" y="485.5" font-size="4.6" font-weight="normal" fill="#222" text-anchor="middle">0</text>
<text x="547.8" y="507.4" font-size="5.6" font-weight="bold" fill="#000" text-anchor="middle">Y (mm)</text>
<text x="557.0" y="431.6" font-size="4.6" font-weight="normal" fill="#222" text-anchor="middle">1</text>
<text x="559.8" y="459.6" font-size="5.6" font-weight="bold" fill="#000" text-anchor="middle" transform="rotate(-90 559.8000000000001 459.65)">Z (mm)</text>
<path d="M576.30 496.70 L574.30 439.90 L609.30 415.20 L664.70 429.60" fill="none" stroke="#d0d0d0" stroke-width="0.6"/>
<line x1="609.30" y1="415.20" x2="609.30" y2="468.70" stroke="#d0d0d0" stroke-width="0.6"/>
<path d="M576.30 496.70 L609.30 468.70 L662.60 484.30" fill="none" stroke="#d0d0d0" stroke-width="0.6"/>
<path d="M576.30 496.70 L632.00 515.30 L662.60 484.30" fill="none" stroke="#505050" stroke-width="0.7"/>
<line x1="664.70" y1="429.60" x2="662.60" y2="484.30" stroke="#505050" stroke-width="0.7"/>
<ellipse cx="620.3" cy="463.0" rx="14.7" ry="9.2" transform="rotate(-6 620.3 463.0)" fill="url(#tealg)"/>
<text x="575.3" y="503.9" font-size="4.6" font-weight="normal" fill="#222" text-anchor="middle">0</text>
<text x="596.9" y="513.7" font-size="5.6" font-weight="bold" fill="#000" text-anchor="middle">X (mm)</text>
<text x="630.0" y="520.9" font-size="4.6" font-weight="normal" fill="#222" text-anchor="middle">1</text>
<text x="634.2" y="520.7" font-size="4.6" font-weight="normal" fill="#222" text-anchor="middle">0</text>
<text x="665.8" y="490.9" font-size="4.6" font-weight="normal" fill="#222" text-anchor="middle">1</text>
<text x="666.2" y="486.1" font-size="4.6" font-weight="normal" fill="#222" text-anchor="middle">0</text>
<text x="659.9" y="508.0" font-size="5.6" font-weight="bold" fill="#000" text-anchor="middle">Y (mm)</text>
<text x="669.1" y="431.6" font-size="4.6" font-weight="normal" fill="#222" text-anchor="middle">1</text>
<text x="671.9" y="460.0" font-size="5.6" font-weight="bold" fill="#000" text-anchor="middle" transform="rotate(-90 671.9000000000001 459.95000000000005)">Z (mm)</text>
<text x="222.2" y="358.0" font-size="8.4" font-weight="bold" fill="#000" stroke="#000" stroke-width="0.16" text-anchor="middle" transform="rotate(-90 222.2 358.0)">Swim bladder</text>
<text x="231.4" y="358.0" font-size="8.4" font-weight="bold" fill="#000" stroke="#000" stroke-width="0.16" text-anchor="middle" transform="rotate(-90 231.4 358.0)">reconstruction</text>
<text x="222.2" y="464.8" font-size="8.4" font-weight="bold" fill="#000" stroke="#000" stroke-width="0.16" text-anchor="middle" transform="rotate(-90 222.2 464.8)">Swim bladder</text>
<text x="231.4" y="464.8" font-size="8.4" font-weight="bold" fill="#000" stroke="#000" stroke-width="0.16" text-anchor="middle" transform="rotate(-90 231.4 464.8)">reconstruction</text>
</svg>
</body></html>
